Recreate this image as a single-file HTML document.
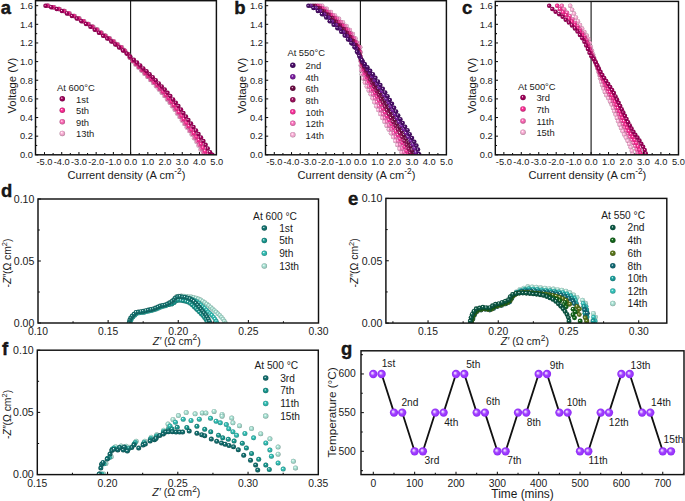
<!DOCTYPE html><html><head><meta charset="utf-8"><style>html,body{margin:0;padding:0;background:#fff;}svg{display:block;font-family:"Liberation Sans",sans-serif;}</style></head><body><svg width="685" height="501" viewBox="0 0 685 501" font-family="Liberation Sans, sans-serif" fill="#1a1a1a"><defs><clipPath id="c0"><rect x="35.5" y="0.7" width="180.9" height="153.9"/></clipPath><radialGradient id="g0" cx="0.5" cy="0.5" r="0.52" fx="0.38" fy="0.34"><stop offset="0" stop-color="#ffffff"/><stop offset="0.16" stop-color="#ffe1f0"/><stop offset="0.36" stop-color="#ffb3da"/><stop offset="0.75" stop-color="#e09ec0"/><stop offset="1" stop-color="#a6748e"/></radialGradient><radialGradient id="g1" cx="0.5" cy="0.5" r="0.52" fx="0.38" fy="0.34"><stop offset="0" stop-color="#ffffff"/><stop offset="0.16" stop-color="#ffc4e3"/><stop offset="0.36" stop-color="#ff6cb8"/><stop offset="0.75" stop-color="#e05fa2"/><stop offset="1" stop-color="#a64678"/></radialGradient><radialGradient id="g2" cx="0.5" cy="0.5" r="0.52" fx="0.38" fy="0.34"><stop offset="0" stop-color="#ffffff"/><stop offset="0.16" stop-color="#ffabd5"/><stop offset="0.36" stop-color="#ff2d96"/><stop offset="0.75" stop-color="#e02884"/><stop offset="1" stop-color="#a61d62"/></radialGradient><radialGradient id="g3" cx="0.5" cy="0.5" r="0.52" fx="0.38" fy="0.34"><stop offset="0" stop-color="#ffffff"/><stop offset="0.16" stop-color="#da99be"/><stop offset="0.36" stop-color="#a3005c"/><stop offset="0.75" stop-color="#8f0051"/><stop offset="1" stop-color="#6a003c"/></radialGradient><clipPath id="c1"><rect x="265.5" y="0.7" width="180.89999999999998" height="153.9"/></clipPath><radialGradient id="g4" cx="0.5" cy="0.5" r="0.52" fx="0.38" fy="0.34"><stop offset="0" stop-color="#ffffff"/><stop offset="0.16" stop-color="#ffe1f1"/><stop offset="0.36" stop-color="#ffb3dc"/><stop offset="0.75" stop-color="#e09ec2"/><stop offset="1" stop-color="#a6748f"/></radialGradient><radialGradient id="g5" cx="0.5" cy="0.5" r="0.52" fx="0.38" fy="0.34"><stop offset="0" stop-color="#ffffff"/><stop offset="0.16" stop-color="#ffc9e7"/><stop offset="0.36" stop-color="#ff78c2"/><stop offset="0.75" stop-color="#e06aab"/><stop offset="1" stop-color="#a64e7e"/></radialGradient><radialGradient id="g6" cx="0.5" cy="0.5" r="0.52" fx="0.38" fy="0.34"><stop offset="0" stop-color="#ffffff"/><stop offset="0.16" stop-color="#ffaed9"/><stop offset="0.36" stop-color="#ff35a0"/><stop offset="0.75" stop-color="#e02f8d"/><stop offset="1" stop-color="#a62268"/></radialGradient><radialGradient id="g7" cx="0.5" cy="0.5" r="0.52" fx="0.38" fy="0.34"><stop offset="0" stop-color="#ffffff"/><stop offset="0.16" stop-color="#d99fbf"/><stop offset="0.36" stop-color="#a0105e"/><stop offset="0.75" stop-color="#8d0e53"/><stop offset="1" stop-color="#680a3d"/></radialGradient><radialGradient id="g8" cx="0.5" cy="0.5" r="0.52" fx="0.38" fy="0.34"><stop offset="0" stop-color="#ffffff"/><stop offset="0.16" stop-color="#c59db5"/><stop offset="0.36" stop-color="#6e0b45"/><stop offset="0.75" stop-color="#610a3d"/><stop offset="1" stop-color="#48072d"/></radialGradient><radialGradient id="g9" cx="0.5" cy="0.5" r="0.52" fx="0.38" fy="0.34"><stop offset="0" stop-color="#ffffff"/><stop offset="0.16" stop-color="#cba5da"/><stop offset="0.36" stop-color="#7d1fa3"/><stop offset="0.75" stop-color="#6e1b8f"/><stop offset="1" stop-color="#51146a"/></radialGradient><radialGradient id="g10" cx="0.5" cy="0.5" r="0.52" fx="0.38" fy="0.34"><stop offset="0" stop-color="#ffffff"/><stop offset="0.16" stop-color="#b79ec4"/><stop offset="0.36" stop-color="#4b0d6b"/><stop offset="0.75" stop-color="#420b5e"/><stop offset="1" stop-color="#310846"/></radialGradient><clipPath id="c2"><rect x="495.3" y="1.4" width="183.2" height="153.2"/></clipPath><clipPath id="c3"><rect x="38.0" y="199.0" width="280.5" height="123.80000000000001"/></clipPath><radialGradient id="g11" cx="0.5" cy="0.5" r="0.52" fx="0.38" fy="0.34"><stop offset="0" stop-color="#ffffff"/><stop offset="0.16" stop-color="#def5ef"/><stop offset="0.36" stop-color="#ade6d8"/><stop offset="0.75" stop-color="#98cabe"/><stop offset="1" stop-color="#70968c"/></radialGradient><radialGradient id="g12" cx="0.5" cy="0.5" r="0.52" fx="0.38" fy="0.34"><stop offset="0" stop-color="#ffffff"/><stop offset="0.16" stop-color="#aee7e3"/><stop offset="0.36" stop-color="#35c2b8"/><stop offset="0.75" stop-color="#2faba2"/><stop offset="1" stop-color="#227e78"/></radialGradient><radialGradient id="g13" cx="0.5" cy="0.5" r="0.52" fx="0.38" fy="0.34"><stop offset="0" stop-color="#ffffff"/><stop offset="0.16" stop-color="#a3d7d3"/><stop offset="0.36" stop-color="#1a9a92"/><stop offset="0.75" stop-color="#178880"/><stop offset="1" stop-color="#11645f"/></radialGradient><radialGradient id="g14" cx="0.5" cy="0.5" r="0.52" fx="0.38" fy="0.34"><stop offset="0" stop-color="#ffffff"/><stop offset="0.16" stop-color="#a1c8c7"/><stop offset="0.36" stop-color="#157673"/><stop offset="0.75" stop-color="#126865"/><stop offset="1" stop-color="#0e4d4b"/></radialGradient><clipPath id="c4"><rect x="385.9" y="198.4" width="280.9" height="124.49999999999997"/></clipPath><radialGradient id="g15" cx="0.5" cy="0.5" r="0.52" fx="0.38" fy="0.34"><stop offset="0" stop-color="#ffffff"/><stop offset="0.16" stop-color="#dff6f0"/><stop offset="0.36" stop-color="#b0e8da"/><stop offset="0.75" stop-color="#9bccc0"/><stop offset="1" stop-color="#72978e"/></radialGradient><radialGradient id="g16" cx="0.5" cy="0.5" r="0.52" fx="0.38" fy="0.34"><stop offset="0" stop-color="#ffffff"/><stop offset="0.16" stop-color="#afe9e6"/><stop offset="0.36" stop-color="#38c8c0"/><stop offset="0.75" stop-color="#31b0a9"/><stop offset="1" stop-color="#24827d"/></radialGradient><radialGradient id="g17" cx="0.5" cy="0.5" r="0.52" fx="0.38" fy="0.34"><stop offset="0" stop-color="#ffffff"/><stop offset="0.16" stop-color="#a4dad9"/><stop offset="0.36" stop-color="#1ba3a0"/><stop offset="0.75" stop-color="#188f8d"/><stop offset="1" stop-color="#126a68"/></radialGradient><radialGradient id="g18" cx="0.5" cy="0.5" r="0.52" fx="0.38" fy="0.34"><stop offset="0" stop-color="#ffffff"/><stop offset="0.16" stop-color="#a1c5c9"/><stop offset="0.36" stop-color="#136d78"/><stop offset="0.75" stop-color="#11606a"/><stop offset="1" stop-color="#0c474e"/></radialGradient><radialGradient id="g19" cx="0.5" cy="0.5" r="0.52" fx="0.38" fy="0.34"><stop offset="0" stop-color="#ffffff"/><stop offset="0.16" stop-color="#becaa4"/><stop offset="0.36" stop-color="#5d7a1c"/><stop offset="0.75" stop-color="#526b19"/><stop offset="1" stop-color="#3c4f12"/></radialGradient><radialGradient id="g20" cx="0.5" cy="0.5" r="0.52" fx="0.38" fy="0.34"><stop offset="0" stop-color="#ffffff"/><stop offset="0.16" stop-color="#a1c3a4"/><stop offset="0.36" stop-color="#14691c"/><stop offset="0.75" stop-color="#125c19"/><stop offset="1" stop-color="#0d4412"/></radialGradient><radialGradient id="g21" cx="0.5" cy="0.5" r="0.52" fx="0.38" fy="0.34"><stop offset="0" stop-color="#ffffff"/><stop offset="0.16" stop-color="#9ebeb6"/><stop offset="0.36" stop-color="#0d5c48"/><stop offset="0.75" stop-color="#0b513f"/><stop offset="1" stop-color="#083c2f"/></radialGradient><clipPath id="c5"><rect x="37.3" y="350.2" width="281.0" height="124.19999999999999"/></clipPath><radialGradient id="g22" cx="0.5" cy="0.5" r="0.52" fx="0.38" fy="0.34"><stop offset="0" stop-color="#ffffff"/><stop offset="0.16" stop-color="#a1c6c6"/><stop offset="0.36" stop-color="#137070"/><stop offset="0.75" stop-color="#116363"/><stop offset="1" stop-color="#0c4949"/></radialGradient><radialGradient id="gpur" cx="0.5" cy="0.5" r="0.5" fx="0.36" fy="0.36"><stop offset="0" stop-color="#f4e6ff"/><stop offset="0.18" stop-color="#e2c2ff"/><stop offset="0.5" stop-color="#a244ff"/><stop offset="0.85" stop-color="#9630fb"/><stop offset="1" stop-color="#8a2cec"/></radialGradient></defs><line x1="130.60" y1="0.70" x2="130.60" y2="154.80" stroke="#111111" stroke-width="1.1"/>
<line x1="44.50" y1="154.80" x2="44.50" y2="152.10" stroke="#111111" stroke-width="1.05"/>
<line x1="53.11" y1="154.80" x2="53.11" y2="153.10" stroke="#111111" stroke-width="1.05"/>
<line x1="61.72" y1="154.80" x2="61.72" y2="152.10" stroke="#111111" stroke-width="1.05"/>
<line x1="70.33" y1="154.80" x2="70.33" y2="153.10" stroke="#111111" stroke-width="1.05"/>
<line x1="78.94" y1="154.80" x2="78.94" y2="152.10" stroke="#111111" stroke-width="1.05"/>
<line x1="87.55" y1="154.80" x2="87.55" y2="153.10" stroke="#111111" stroke-width="1.05"/>
<line x1="96.16" y1="154.80" x2="96.16" y2="152.10" stroke="#111111" stroke-width="1.05"/>
<line x1="104.77" y1="154.80" x2="104.77" y2="153.10" stroke="#111111" stroke-width="1.05"/>
<line x1="113.38" y1="154.80" x2="113.38" y2="152.10" stroke="#111111" stroke-width="1.05"/>
<line x1="121.99" y1="154.80" x2="121.99" y2="153.10" stroke="#111111" stroke-width="1.05"/>
<line x1="130.60" y1="154.80" x2="130.60" y2="152.10" stroke="#111111" stroke-width="1.05"/>
<line x1="139.21" y1="154.80" x2="139.21" y2="153.10" stroke="#111111" stroke-width="1.05"/>
<line x1="147.82" y1="154.80" x2="147.82" y2="152.10" stroke="#111111" stroke-width="1.05"/>
<line x1="156.43" y1="154.80" x2="156.43" y2="153.10" stroke="#111111" stroke-width="1.05"/>
<line x1="165.04" y1="154.80" x2="165.04" y2="152.10" stroke="#111111" stroke-width="1.05"/>
<line x1="173.65" y1="154.80" x2="173.65" y2="153.10" stroke="#111111" stroke-width="1.05"/>
<line x1="182.26" y1="154.80" x2="182.26" y2="152.10" stroke="#111111" stroke-width="1.05"/>
<line x1="190.87" y1="154.80" x2="190.87" y2="153.10" stroke="#111111" stroke-width="1.05"/>
<line x1="199.48" y1="154.80" x2="199.48" y2="152.10" stroke="#111111" stroke-width="1.05"/>
<line x1="208.09" y1="154.80" x2="208.09" y2="153.10" stroke="#111111" stroke-width="1.05"/>
<text x="44.50" y="164.80" font-size="9.3" text-anchor="middle" font-weight="normal" >-5.0</text>
<text x="61.72" y="164.80" font-size="9.3" text-anchor="middle" font-weight="normal" >-4.0</text>
<text x="78.94" y="164.80" font-size="9.3" text-anchor="middle" font-weight="normal" >-3.0</text>
<text x="96.16" y="164.80" font-size="9.3" text-anchor="middle" font-weight="normal" >-2.0</text>
<text x="113.38" y="164.80" font-size="9.3" text-anchor="middle" font-weight="normal" >-1.0</text>
<text x="130.60" y="164.80" font-size="9.3" text-anchor="middle" font-weight="normal" >0.0</text>
<text x="147.82" y="164.80" font-size="9.3" text-anchor="middle" font-weight="normal" >1.0</text>
<text x="165.04" y="164.80" font-size="9.3" text-anchor="middle" font-weight="normal" >2.0</text>
<text x="182.26" y="164.80" font-size="9.3" text-anchor="middle" font-weight="normal" >3.0</text>
<text x="199.48" y="164.80" font-size="9.3" text-anchor="middle" font-weight="normal" >4.0</text>
<text x="216.70" y="164.80" font-size="9.3" text-anchor="middle" font-weight="normal" >5.0</text>
<line x1="35.50" y1="154.80" x2="38.20" y2="154.80" stroke="#111111" stroke-width="1.05"/>
<text x="32.90" y="158.10" font-size="9.3" text-anchor="end" font-weight="normal" >0.0</text>
<line x1="35.50" y1="145.48" x2="37.20" y2="145.48" stroke="#111111" stroke-width="1.05"/>
<line x1="35.50" y1="136.16" x2="38.20" y2="136.16" stroke="#111111" stroke-width="1.05"/>
<text x="32.90" y="139.46" font-size="9.3" text-anchor="end" font-weight="normal" >0.2</text>
<line x1="35.50" y1="126.84" x2="37.20" y2="126.84" stroke="#111111" stroke-width="1.05"/>
<line x1="35.50" y1="117.52" x2="38.20" y2="117.52" stroke="#111111" stroke-width="1.05"/>
<text x="32.90" y="120.82" font-size="9.3" text-anchor="end" font-weight="normal" >0.4</text>
<line x1="35.50" y1="108.20" x2="37.20" y2="108.20" stroke="#111111" stroke-width="1.05"/>
<line x1="35.50" y1="98.88" x2="38.20" y2="98.88" stroke="#111111" stroke-width="1.05"/>
<text x="32.90" y="102.18" font-size="9.3" text-anchor="end" font-weight="normal" >0.6</text>
<line x1="35.50" y1="89.56" x2="37.20" y2="89.56" stroke="#111111" stroke-width="1.05"/>
<line x1="35.50" y1="80.24" x2="38.20" y2="80.24" stroke="#111111" stroke-width="1.05"/>
<text x="32.90" y="83.54" font-size="9.3" text-anchor="end" font-weight="normal" >0.8</text>
<line x1="35.50" y1="70.92" x2="37.20" y2="70.92" stroke="#111111" stroke-width="1.05"/>
<line x1="35.50" y1="61.60" x2="38.20" y2="61.60" stroke="#111111" stroke-width="1.05"/>
<text x="32.90" y="64.90" font-size="9.3" text-anchor="end" font-weight="normal" >1.0</text>
<line x1="35.50" y1="52.28" x2="37.20" y2="52.28" stroke="#111111" stroke-width="1.05"/>
<line x1="35.50" y1="42.96" x2="38.20" y2="42.96" stroke="#111111" stroke-width="1.05"/>
<text x="32.90" y="46.26" font-size="9.3" text-anchor="end" font-weight="normal" >1.2</text>
<line x1="35.50" y1="33.64" x2="37.20" y2="33.64" stroke="#111111" stroke-width="1.05"/>
<line x1="35.50" y1="24.32" x2="38.20" y2="24.32" stroke="#111111" stroke-width="1.05"/>
<text x="32.90" y="27.62" font-size="9.3" text-anchor="end" font-weight="normal" >1.4</text>
<line x1="35.50" y1="15.00" x2="37.20" y2="15.00" stroke="#111111" stroke-width="1.05"/>
<line x1="35.50" y1="5.68" x2="38.20" y2="5.68" stroke="#111111" stroke-width="1.05"/>
<text x="32.90" y="8.98" font-size="9.3" text-anchor="end" font-weight="normal" >1.6</text>
<text x="0.80" y="13.60" font-size="18.5" text-anchor="start" font-weight="bold" stroke="#000" stroke-width="0.35">a</text>
<text x="126.45" y="179.00" font-size="11.1" text-anchor="middle" font-weight="normal" >Current density (A cm<tspan dy="-5.4" font-size="8.4">-2</tspan><tspan dy="5.4">)</tspan></text>
<text x="0.00" y="0.00" font-size="11.3" text-anchor="middle" font-weight="normal" transform="translate(15.9,85.6) rotate(-90)">Voltage (V)</text>
<g clip-path="url(#c0)">
<circle cx="48.5" cy="5.7" r="2.25" fill="url(#g0)"/>
<circle cx="54.1" cy="7.3" r="2.25" fill="url(#g0)"/>
<circle cx="59.6" cy="9.1" r="2.25" fill="url(#g0)"/>
<circle cx="64.8" cy="11.1" r="2.25" fill="url(#g0)"/>
<circle cx="69.8" cy="13.4" r="2.25" fill="url(#g0)"/>
<circle cx="74.8" cy="15.9" r="2.25" fill="url(#g0)"/>
<circle cx="79.5" cy="18.6" r="2.25" fill="url(#g0)"/>
<circle cx="84.2" cy="21.2" r="2.25" fill="url(#g0)"/>
<circle cx="88.8" cy="24.0" r="2.25" fill="url(#g0)"/>
<circle cx="93.3" cy="26.8" r="2.25" fill="url(#g0)"/>
<circle cx="97.5" cy="29.6" r="2.25" fill="url(#g0)"/>
<circle cx="101.7" cy="32.7" r="2.25" fill="url(#g0)"/>
<circle cx="105.9" cy="35.7" r="2.25" fill="url(#g0)"/>
<circle cx="110.0" cy="38.5" r="2.25" fill="url(#g0)"/>
<circle cx="114.1" cy="41.4" r="2.25" fill="url(#g0)"/>
<circle cx="118.0" cy="44.4" r="2.25" fill="url(#g0)"/>
<circle cx="121.9" cy="47.3" r="2.25" fill="url(#g0)"/>
<circle cx="125.2" cy="50.8" r="2.25" fill="url(#g0)"/>
<circle cx="128.3" cy="54.3" r="2.25" fill="url(#g0)"/>
<circle cx="129.6" cy="57.5" r="2.25" fill="url(#g0)"/>
<circle cx="132.4" cy="61.2" r="2.25" fill="url(#g0)"/>
<circle cx="135.4" cy="64.4" r="2.25" fill="url(#g0)"/>
<circle cx="138.4" cy="67.4" r="2.25" fill="url(#g0)"/>
<circle cx="141.3" cy="70.5" r="2.25" fill="url(#g0)"/>
<circle cx="144.4" cy="73.7" r="2.25" fill="url(#g0)"/>
<circle cx="147.3" cy="76.7" r="2.25" fill="url(#g0)"/>
<circle cx="150.3" cy="79.9" r="2.25" fill="url(#g0)"/>
<circle cx="153.2" cy="83.0" r="2.25" fill="url(#g0)"/>
<circle cx="156.1" cy="86.2" r="2.25" fill="url(#g0)"/>
<circle cx="158.9" cy="89.4" r="2.25" fill="url(#g0)"/>
<circle cx="161.7" cy="92.7" r="2.25" fill="url(#g0)"/>
<circle cx="164.4" cy="96.0" r="2.25" fill="url(#g0)"/>
<circle cx="167.1" cy="99.4" r="2.25" fill="url(#g0)"/>
<circle cx="169.7" cy="102.8" r="2.25" fill="url(#g0)"/>
<circle cx="172.2" cy="106.3" r="2.25" fill="url(#g0)"/>
<circle cx="174.7" cy="109.8" r="2.25" fill="url(#g0)"/>
<circle cx="177.1" cy="113.4" r="2.25" fill="url(#g0)"/>
<circle cx="179.5" cy="117.0" r="2.25" fill="url(#g0)"/>
<circle cx="181.9" cy="120.5" r="2.25" fill="url(#g0)"/>
<circle cx="184.4" cy="124.0" r="2.25" fill="url(#g0)"/>
<circle cx="186.8" cy="127.6" r="2.25" fill="url(#g0)"/>
<circle cx="189.3" cy="131.1" r="2.25" fill="url(#g0)"/>
<circle cx="191.7" cy="134.6" r="2.25" fill="url(#g0)"/>
<circle cx="194.2" cy="138.2" r="2.25" fill="url(#g0)"/>
<circle cx="196.5" cy="141.8" r="2.25" fill="url(#g0)"/>
<circle cx="198.5" cy="145.6" r="2.25" fill="url(#g0)"/>
<circle cx="200.6" cy="149.4" r="2.25" fill="url(#g0)"/>
<circle cx="203.0" cy="153.0" r="2.25" fill="url(#g0)"/>
<circle cx="204.6" cy="154.8" r="2.25" fill="url(#g0)"/>
<circle cx="47.9" cy="5.7" r="2.25" fill="url(#g1)"/>
<circle cx="53.6" cy="7.3" r="2.25" fill="url(#g1)"/>
<circle cx="59.0" cy="9.1" r="2.25" fill="url(#g1)"/>
<circle cx="64.2" cy="11.1" r="2.25" fill="url(#g1)"/>
<circle cx="69.2" cy="13.4" r="2.25" fill="url(#g1)"/>
<circle cx="74.2" cy="15.9" r="2.25" fill="url(#g1)"/>
<circle cx="79.0" cy="18.6" r="2.25" fill="url(#g1)"/>
<circle cx="83.6" cy="21.2" r="2.25" fill="url(#g1)"/>
<circle cx="88.2" cy="24.0" r="2.25" fill="url(#g1)"/>
<circle cx="92.7" cy="26.8" r="2.25" fill="url(#g1)"/>
<circle cx="97.0" cy="29.7" r="2.25" fill="url(#g1)"/>
<circle cx="101.1" cy="32.7" r="2.25" fill="url(#g1)"/>
<circle cx="105.3" cy="35.7" r="2.25" fill="url(#g1)"/>
<circle cx="109.4" cy="38.5" r="2.25" fill="url(#g1)"/>
<circle cx="113.5" cy="41.4" r="2.25" fill="url(#g1)"/>
<circle cx="117.4" cy="44.4" r="2.25" fill="url(#g1)"/>
<circle cx="121.3" cy="47.3" r="2.25" fill="url(#g1)"/>
<circle cx="124.7" cy="50.7" r="2.25" fill="url(#g1)"/>
<circle cx="128.0" cy="54.2" r="2.25" fill="url(#g1)"/>
<circle cx="129.9" cy="57.4" r="2.25" fill="url(#g1)"/>
<circle cx="132.9" cy="61.0" r="2.25" fill="url(#g1)"/>
<circle cx="135.9" cy="64.1" r="2.25" fill="url(#g1)"/>
<circle cx="138.9" cy="67.1" r="2.25" fill="url(#g1)"/>
<circle cx="141.9" cy="70.2" r="2.25" fill="url(#g1)"/>
<circle cx="144.9" cy="73.3" r="2.25" fill="url(#g1)"/>
<circle cx="147.9" cy="76.4" r="2.25" fill="url(#g1)"/>
<circle cx="150.9" cy="79.5" r="2.25" fill="url(#g1)"/>
<circle cx="153.8" cy="82.6" r="2.25" fill="url(#g1)"/>
<circle cx="156.8" cy="85.8" r="2.25" fill="url(#g1)"/>
<circle cx="159.7" cy="89.0" r="2.25" fill="url(#g1)"/>
<circle cx="162.5" cy="92.2" r="2.25" fill="url(#g1)"/>
<circle cx="165.2" cy="95.5" r="2.25" fill="url(#g1)"/>
<circle cx="167.9" cy="98.9" r="2.25" fill="url(#g1)"/>
<circle cx="170.5" cy="102.2" r="2.25" fill="url(#g1)"/>
<circle cx="173.1" cy="105.7" r="2.25" fill="url(#g1)"/>
<circle cx="175.6" cy="109.2" r="2.25" fill="url(#g1)"/>
<circle cx="178.0" cy="112.8" r="2.25" fill="url(#g1)"/>
<circle cx="180.4" cy="116.4" r="2.25" fill="url(#g1)"/>
<circle cx="182.8" cy="119.9" r="2.25" fill="url(#g1)"/>
<circle cx="185.3" cy="123.4" r="2.25" fill="url(#g1)"/>
<circle cx="187.8" cy="126.9" r="2.25" fill="url(#g1)"/>
<circle cx="190.3" cy="130.4" r="2.25" fill="url(#g1)"/>
<circle cx="192.7" cy="134.0" r="2.25" fill="url(#g1)"/>
<circle cx="195.2" cy="137.5" r="2.25" fill="url(#g1)"/>
<circle cx="197.5" cy="141.1" r="2.25" fill="url(#g1)"/>
<circle cx="199.6" cy="144.8" r="2.25" fill="url(#g1)"/>
<circle cx="201.7" cy="148.6" r="2.25" fill="url(#g1)"/>
<circle cx="204.0" cy="152.3" r="2.25" fill="url(#g1)"/>
<circle cx="206.2" cy="154.8" r="2.25" fill="url(#g1)"/>
<circle cx="47.1" cy="5.7" r="2.25" fill="url(#g2)"/>
<circle cx="52.8" cy="7.3" r="2.25" fill="url(#g2)"/>
<circle cx="58.3" cy="9.1" r="2.25" fill="url(#g2)"/>
<circle cx="63.5" cy="11.1" r="2.25" fill="url(#g2)"/>
<circle cx="68.5" cy="13.4" r="2.25" fill="url(#g2)"/>
<circle cx="73.5" cy="15.9" r="2.25" fill="url(#g2)"/>
<circle cx="78.2" cy="18.6" r="2.25" fill="url(#g2)"/>
<circle cx="83.0" cy="21.3" r="2.25" fill="url(#g2)"/>
<circle cx="87.5" cy="24.0" r="2.25" fill="url(#g2)"/>
<circle cx="91.9" cy="26.8" r="2.25" fill="url(#g2)"/>
<circle cx="96.3" cy="29.7" r="2.25" fill="url(#g2)"/>
<circle cx="100.5" cy="32.7" r="2.25" fill="url(#g2)"/>
<circle cx="104.6" cy="35.7" r="2.25" fill="url(#g2)"/>
<circle cx="108.7" cy="38.6" r="2.25" fill="url(#g2)"/>
<circle cx="112.8" cy="41.5" r="2.25" fill="url(#g2)"/>
<circle cx="116.7" cy="44.4" r="2.25" fill="url(#g2)"/>
<circle cx="120.6" cy="47.4" r="2.25" fill="url(#g2)"/>
<circle cx="124.1" cy="50.6" r="2.25" fill="url(#g2)"/>
<circle cx="127.6" cy="54.0" r="2.25" fill="url(#g2)"/>
<circle cx="130.2" cy="57.2" r="2.25" fill="url(#g2)"/>
<circle cx="133.3" cy="60.7" r="2.25" fill="url(#g2)"/>
<circle cx="136.4" cy="63.8" r="2.25" fill="url(#g2)"/>
<circle cx="139.4" cy="66.7" r="2.25" fill="url(#g2)"/>
<circle cx="142.5" cy="69.8" r="2.25" fill="url(#g2)"/>
<circle cx="145.6" cy="72.8" r="2.25" fill="url(#g2)"/>
<circle cx="148.6" cy="75.8" r="2.25" fill="url(#g2)"/>
<circle cx="151.6" cy="78.9" r="2.25" fill="url(#g2)"/>
<circle cx="154.6" cy="82.0" r="2.25" fill="url(#g2)"/>
<circle cx="157.5" cy="85.1" r="2.25" fill="url(#g2)"/>
<circle cx="160.5" cy="88.3" r="2.25" fill="url(#g2)"/>
<circle cx="163.3" cy="91.5" r="2.25" fill="url(#g2)"/>
<circle cx="166.1" cy="94.8" r="2.25" fill="url(#g2)"/>
<circle cx="168.8" cy="98.1" r="2.25" fill="url(#g2)"/>
<circle cx="171.5" cy="101.5" r="2.25" fill="url(#g2)"/>
<circle cx="174.1" cy="104.9" r="2.25" fill="url(#g2)"/>
<circle cx="176.6" cy="108.4" r="2.25" fill="url(#g2)"/>
<circle cx="179.1" cy="111.9" r="2.25" fill="url(#g2)"/>
<circle cx="181.5" cy="115.5" r="2.25" fill="url(#g2)"/>
<circle cx="183.9" cy="119.0" r="2.25" fill="url(#g2)"/>
<circle cx="186.4" cy="122.5" r="2.25" fill="url(#g2)"/>
<circle cx="188.9" cy="126.0" r="2.25" fill="url(#g2)"/>
<circle cx="191.4" cy="129.5" r="2.25" fill="url(#g2)"/>
<circle cx="193.9" cy="133.0" r="2.25" fill="url(#g2)"/>
<circle cx="196.4" cy="136.6" r="2.25" fill="url(#g2)"/>
<circle cx="198.8" cy="140.1" r="2.25" fill="url(#g2)"/>
<circle cx="201.0" cy="143.8" r="2.25" fill="url(#g2)"/>
<circle cx="203.0" cy="147.6" r="2.25" fill="url(#g2)"/>
<circle cx="205.2" cy="151.3" r="2.25" fill="url(#g2)"/>
<circle cx="207.9" cy="154.6" r="2.25" fill="url(#g2)"/>
<circle cx="45.5" cy="5.7" r="2.25" fill="url(#g3)"/>
<circle cx="51.2" cy="7.3" r="2.25" fill="url(#g3)"/>
<circle cx="56.7" cy="9.1" r="2.25" fill="url(#g3)"/>
<circle cx="61.9" cy="11.1" r="2.25" fill="url(#g3)"/>
<circle cx="66.9" cy="13.4" r="2.25" fill="url(#g3)"/>
<circle cx="71.9" cy="15.9" r="2.25" fill="url(#g3)"/>
<circle cx="76.7" cy="18.6" r="2.25" fill="url(#g3)"/>
<circle cx="81.3" cy="21.3" r="2.25" fill="url(#g3)"/>
<circle cx="86.0" cy="24.0" r="2.25" fill="url(#g3)"/>
<circle cx="90.4" cy="26.8" r="2.25" fill="url(#g3)"/>
<circle cx="94.7" cy="29.7" r="2.25" fill="url(#g3)"/>
<circle cx="98.9" cy="32.7" r="2.25" fill="url(#g3)"/>
<circle cx="103.1" cy="35.8" r="2.25" fill="url(#g3)"/>
<circle cx="107.2" cy="38.6" r="2.25" fill="url(#g3)"/>
<circle cx="111.3" cy="41.5" r="2.25" fill="url(#g3)"/>
<circle cx="115.3" cy="44.5" r="2.25" fill="url(#g3)"/>
<circle cx="119.1" cy="47.5" r="2.25" fill="url(#g3)"/>
<circle cx="122.9" cy="50.5" r="2.25" fill="url(#g3)"/>
<circle cx="126.6" cy="53.6" r="2.25" fill="url(#g3)"/>
<circle cx="130.2" cy="56.6" r="2.25" fill="url(#g3)"/>
<circle cx="133.8" cy="59.7" r="2.25" fill="url(#g3)"/>
<circle cx="137.0" cy="62.6" r="2.25" fill="url(#g3)"/>
<circle cx="140.2" cy="65.4" r="2.25" fill="url(#g3)"/>
<circle cx="143.3" cy="68.4" r="2.25" fill="url(#g3)"/>
<circle cx="146.5" cy="71.3" r="2.25" fill="url(#g3)"/>
<circle cx="149.6" cy="74.3" r="2.25" fill="url(#g3)"/>
<circle cx="152.7" cy="77.3" r="2.25" fill="url(#g3)"/>
<circle cx="155.7" cy="80.3" r="2.25" fill="url(#g3)"/>
<circle cx="158.8" cy="83.4" r="2.25" fill="url(#g3)"/>
<circle cx="161.7" cy="86.5" r="2.25" fill="url(#g3)"/>
<circle cx="164.7" cy="89.6" r="2.25" fill="url(#g3)"/>
<circle cx="167.5" cy="92.8" r="2.25" fill="url(#g3)"/>
<circle cx="170.3" cy="96.0" r="2.25" fill="url(#g3)"/>
<circle cx="173.1" cy="99.4" r="2.25" fill="url(#g3)"/>
<circle cx="175.8" cy="102.7" r="2.25" fill="url(#g3)"/>
<circle cx="178.4" cy="106.1" r="2.25" fill="url(#g3)"/>
<circle cx="181.0" cy="109.6" r="2.25" fill="url(#g3)"/>
<circle cx="183.4" cy="113.1" r="2.25" fill="url(#g3)"/>
<circle cx="185.9" cy="116.6" r="2.25" fill="url(#g3)"/>
<circle cx="188.4" cy="120.1" r="2.25" fill="url(#g3)"/>
<circle cx="191.0" cy="123.6" r="2.25" fill="url(#g3)"/>
<circle cx="193.5" cy="127.1" r="2.25" fill="url(#g3)"/>
<circle cx="196.0" cy="130.5" r="2.25" fill="url(#g3)"/>
<circle cx="198.5" cy="134.0" r="2.25" fill="url(#g3)"/>
<circle cx="201.0" cy="137.5" r="2.25" fill="url(#g3)"/>
<circle cx="203.4" cy="141.1" r="2.25" fill="url(#g3)"/>
<circle cx="205.6" cy="144.8" r="2.25" fill="url(#g3)"/>
<circle cx="207.7" cy="148.5" r="2.25" fill="url(#g3)"/>
<circle cx="210.1" cy="152.2" r="2.25" fill="url(#g3)"/>
<circle cx="212.4" cy="154.8" r="2.25" fill="url(#g3)"/>
</g>
<text x="57.10" y="90.70" font-size="9.4" text-anchor="start" font-weight="normal" >At 600&#176;C</text>
<circle cx="62.3" cy="98.8" r="2.75" fill="url(#g3)"/>
<text x="76.00" y="102.60" font-size="9.4" text-anchor="start" font-weight="normal" >1st</text>
<circle cx="62.3" cy="110.3" r="2.75" fill="url(#g2)"/>
<text x="76.00" y="114.10" font-size="9.4" text-anchor="start" font-weight="normal" >5th</text>
<circle cx="62.3" cy="121.8" r="2.75" fill="url(#g1)"/>
<text x="76.00" y="125.60" font-size="9.4" text-anchor="start" font-weight="normal" >9th</text>
<circle cx="62.3" cy="133.4" r="2.75" fill="url(#g0)"/>
<text x="76.00" y="137.20" font-size="9.4" text-anchor="start" font-weight="normal" >13th</text>
<line x1="360.40" y1="0.70" x2="360.40" y2="154.80" stroke="#111111" stroke-width="1.1"/>
<line x1="274.30" y1="154.80" x2="274.30" y2="152.10" stroke="#111111" stroke-width="1.05"/>
<line x1="282.91" y1="154.80" x2="282.91" y2="153.10" stroke="#111111" stroke-width="1.05"/>
<line x1="291.52" y1="154.80" x2="291.52" y2="152.10" stroke="#111111" stroke-width="1.05"/>
<line x1="300.13" y1="154.80" x2="300.13" y2="153.10" stroke="#111111" stroke-width="1.05"/>
<line x1="308.74" y1="154.80" x2="308.74" y2="152.10" stroke="#111111" stroke-width="1.05"/>
<line x1="317.35" y1="154.80" x2="317.35" y2="153.10" stroke="#111111" stroke-width="1.05"/>
<line x1="325.96" y1="154.80" x2="325.96" y2="152.10" stroke="#111111" stroke-width="1.05"/>
<line x1="334.57" y1="154.80" x2="334.57" y2="153.10" stroke="#111111" stroke-width="1.05"/>
<line x1="343.18" y1="154.80" x2="343.18" y2="152.10" stroke="#111111" stroke-width="1.05"/>
<line x1="351.79" y1="154.80" x2="351.79" y2="153.10" stroke="#111111" stroke-width="1.05"/>
<line x1="360.40" y1="154.80" x2="360.40" y2="152.10" stroke="#111111" stroke-width="1.05"/>
<line x1="369.01" y1="154.80" x2="369.01" y2="153.10" stroke="#111111" stroke-width="1.05"/>
<line x1="377.62" y1="154.80" x2="377.62" y2="152.10" stroke="#111111" stroke-width="1.05"/>
<line x1="386.23" y1="154.80" x2="386.23" y2="153.10" stroke="#111111" stroke-width="1.05"/>
<line x1="394.84" y1="154.80" x2="394.84" y2="152.10" stroke="#111111" stroke-width="1.05"/>
<line x1="403.45" y1="154.80" x2="403.45" y2="153.10" stroke="#111111" stroke-width="1.05"/>
<line x1="412.06" y1="154.80" x2="412.06" y2="152.10" stroke="#111111" stroke-width="1.05"/>
<line x1="420.67" y1="154.80" x2="420.67" y2="153.10" stroke="#111111" stroke-width="1.05"/>
<line x1="429.28" y1="154.80" x2="429.28" y2="152.10" stroke="#111111" stroke-width="1.05"/>
<line x1="437.89" y1="154.80" x2="437.89" y2="153.10" stroke="#111111" stroke-width="1.05"/>
<text x="274.30" y="164.80" font-size="9.3" text-anchor="middle" font-weight="normal" >-5.0</text>
<text x="291.52" y="164.80" font-size="9.3" text-anchor="middle" font-weight="normal" >-4.0</text>
<text x="308.74" y="164.80" font-size="9.3" text-anchor="middle" font-weight="normal" >-3.0</text>
<text x="325.96" y="164.80" font-size="9.3" text-anchor="middle" font-weight="normal" >-2.0</text>
<text x="343.18" y="164.80" font-size="9.3" text-anchor="middle" font-weight="normal" >-1.0</text>
<text x="360.40" y="164.80" font-size="9.3" text-anchor="middle" font-weight="normal" >0.0</text>
<text x="377.62" y="164.80" font-size="9.3" text-anchor="middle" font-weight="normal" >1.0</text>
<text x="394.84" y="164.80" font-size="9.3" text-anchor="middle" font-weight="normal" >2.0</text>
<text x="412.06" y="164.80" font-size="9.3" text-anchor="middle" font-weight="normal" >3.0</text>
<text x="429.28" y="164.80" font-size="9.3" text-anchor="middle" font-weight="normal" >4.0</text>
<text x="446.50" y="164.80" font-size="9.3" text-anchor="middle" font-weight="normal" >5.0</text>
<line x1="265.50" y1="154.80" x2="268.20" y2="154.80" stroke="#111111" stroke-width="1.05"/>
<text x="262.90" y="158.10" font-size="9.3" text-anchor="end" font-weight="normal" >0.0</text>
<line x1="265.50" y1="145.48" x2="267.20" y2="145.48" stroke="#111111" stroke-width="1.05"/>
<line x1="265.50" y1="136.16" x2="268.20" y2="136.16" stroke="#111111" stroke-width="1.05"/>
<text x="262.90" y="139.46" font-size="9.3" text-anchor="end" font-weight="normal" >0.2</text>
<line x1="265.50" y1="126.84" x2="267.20" y2="126.84" stroke="#111111" stroke-width="1.05"/>
<line x1="265.50" y1="117.52" x2="268.20" y2="117.52" stroke="#111111" stroke-width="1.05"/>
<text x="262.90" y="120.82" font-size="9.3" text-anchor="end" font-weight="normal" >0.4</text>
<line x1="265.50" y1="108.20" x2="267.20" y2="108.20" stroke="#111111" stroke-width="1.05"/>
<line x1="265.50" y1="98.88" x2="268.20" y2="98.88" stroke="#111111" stroke-width="1.05"/>
<text x="262.90" y="102.18" font-size="9.3" text-anchor="end" font-weight="normal" >0.6</text>
<line x1="265.50" y1="89.56" x2="267.20" y2="89.56" stroke="#111111" stroke-width="1.05"/>
<line x1="265.50" y1="80.24" x2="268.20" y2="80.24" stroke="#111111" stroke-width="1.05"/>
<text x="262.90" y="83.54" font-size="9.3" text-anchor="end" font-weight="normal" >0.8</text>
<line x1="265.50" y1="70.92" x2="267.20" y2="70.92" stroke="#111111" stroke-width="1.05"/>
<line x1="265.50" y1="61.60" x2="268.20" y2="61.60" stroke="#111111" stroke-width="1.05"/>
<text x="262.90" y="64.90" font-size="9.3" text-anchor="end" font-weight="normal" >1.0</text>
<line x1="265.50" y1="52.28" x2="267.20" y2="52.28" stroke="#111111" stroke-width="1.05"/>
<line x1="265.50" y1="42.96" x2="268.20" y2="42.96" stroke="#111111" stroke-width="1.05"/>
<text x="262.90" y="46.26" font-size="9.3" text-anchor="end" font-weight="normal" >1.2</text>
<line x1="265.50" y1="33.64" x2="267.20" y2="33.64" stroke="#111111" stroke-width="1.05"/>
<line x1="265.50" y1="24.32" x2="268.20" y2="24.32" stroke="#111111" stroke-width="1.05"/>
<text x="262.90" y="27.62" font-size="9.3" text-anchor="end" font-weight="normal" >1.4</text>
<line x1="265.50" y1="15.00" x2="267.20" y2="15.00" stroke="#111111" stroke-width="1.05"/>
<line x1="265.50" y1="5.68" x2="268.20" y2="5.68" stroke="#111111" stroke-width="1.05"/>
<text x="262.90" y="8.98" font-size="9.3" text-anchor="end" font-weight="normal" >1.6</text>
<text x="234.20" y="13.90" font-size="18.5" text-anchor="start" font-weight="bold" stroke="#000" stroke-width="0.35">b</text>
<text x="356.45" y="179.00" font-size="11.1" text-anchor="middle" font-weight="normal" >Current density (A cm<tspan dy="-5.4" font-size="8.4">-2</tspan><tspan dy="5.4">)</tspan></text>
<text x="0.00" y="0.00" font-size="11.3" text-anchor="middle" font-weight="normal" transform="translate(245.9,85.6) rotate(-90)">Voltage (V)</text>
<g clip-path="url(#c1)">
<circle cx="322.2" cy="5.7" r="2.25" fill="url(#g4)"/>
<circle cx="326.6" cy="8.8" r="2.25" fill="url(#g4)"/>
<circle cx="330.9" cy="12.0" r="2.25" fill="url(#g4)"/>
<circle cx="335.0" cy="15.4" r="2.25" fill="url(#g4)"/>
<circle cx="339.0" cy="18.8" r="2.25" fill="url(#g4)"/>
<circle cx="342.9" cy="22.3" r="2.25" fill="url(#g4)"/>
<circle cx="346.5" cy="26.0" r="2.25" fill="url(#g4)"/>
<circle cx="349.9" cy="29.9" r="2.25" fill="url(#g4)"/>
<circle cx="352.9" cy="34.0" r="2.25" fill="url(#g4)"/>
<circle cx="355.5" cy="38.4" r="2.25" fill="url(#g4)"/>
<circle cx="357.8" cy="42.9" r="2.25" fill="url(#g4)"/>
<circle cx="360.2" cy="47.3" r="2.25" fill="url(#g4)"/>
<circle cx="360.5" cy="52.3" r="2.25" fill="url(#g4)"/>
<circle cx="360.5" cy="56.7" r="2.25" fill="url(#g4)"/>
<circle cx="360.6" cy="61.1" r="2.25" fill="url(#g4)"/>
<circle cx="360.8" cy="65.4" r="2.25" fill="url(#g4)"/>
<circle cx="361.1" cy="69.9" r="2.25" fill="url(#g4)"/>
<circle cx="361.9" cy="74.2" r="2.25" fill="url(#g4)"/>
<circle cx="363.2" cy="78.4" r="2.25" fill="url(#g4)"/>
<circle cx="364.9" cy="82.5" r="2.25" fill="url(#g4)"/>
<circle cx="366.8" cy="86.4" r="2.25" fill="url(#g4)"/>
<circle cx="368.7" cy="90.4" r="2.25" fill="url(#g4)"/>
<circle cx="370.7" cy="94.3" r="2.25" fill="url(#g4)"/>
<circle cx="372.6" cy="98.3" r="2.25" fill="url(#g4)"/>
<circle cx="374.4" cy="102.3" r="2.25" fill="url(#g4)"/>
<circle cx="376.3" cy="106.2" r="2.25" fill="url(#g4)"/>
<circle cx="378.3" cy="110.1" r="2.25" fill="url(#g4)"/>
<circle cx="380.3" cy="114.1" r="2.25" fill="url(#g4)"/>
<circle cx="382.4" cy="118.0" r="2.25" fill="url(#g4)"/>
<circle cx="384.5" cy="121.8" r="2.25" fill="url(#g4)"/>
<circle cx="386.6" cy="125.7" r="2.25" fill="url(#g4)"/>
<circle cx="388.8" cy="129.5" r="2.25" fill="url(#g4)"/>
<circle cx="391.0" cy="133.3" r="2.25" fill="url(#g4)"/>
<circle cx="393.1" cy="137.1" r="2.25" fill="url(#g4)"/>
<circle cx="395.3" cy="141.0" r="2.25" fill="url(#g4)"/>
<circle cx="397.4" cy="144.9" r="2.25" fill="url(#g4)"/>
<circle cx="399.5" cy="148.7" r="2.25" fill="url(#g4)"/>
<circle cx="401.6" cy="152.6" r="2.25" fill="url(#g4)"/>
<circle cx="402.8" cy="154.8" r="2.25" fill="url(#g4)"/>
<circle cx="319.9" cy="5.7" r="2.25" fill="url(#g5)"/>
<circle cx="324.4" cy="8.7" r="2.25" fill="url(#g5)"/>
<circle cx="328.7" cy="11.9" r="2.25" fill="url(#g5)"/>
<circle cx="332.9" cy="15.2" r="2.25" fill="url(#g5)"/>
<circle cx="336.9" cy="18.6" r="2.25" fill="url(#g5)"/>
<circle cx="340.7" cy="22.1" r="2.25" fill="url(#g5)"/>
<circle cx="344.4" cy="25.8" r="2.25" fill="url(#g5)"/>
<circle cx="347.9" cy="29.6" r="2.25" fill="url(#g5)"/>
<circle cx="351.0" cy="33.6" r="2.25" fill="url(#g5)"/>
<circle cx="353.8" cy="38.0" r="2.25" fill="url(#g5)"/>
<circle cx="356.3" cy="42.3" r="2.25" fill="url(#g5)"/>
<circle cx="358.9" cy="46.7" r="2.25" fill="url(#g5)"/>
<circle cx="359.9" cy="51.5" r="2.25" fill="url(#g5)"/>
<circle cx="360.4" cy="56.5" r="2.25" fill="url(#g5)"/>
<circle cx="361.0" cy="61.5" r="2.25" fill="url(#g5)"/>
<circle cx="361.7" cy="65.8" r="2.25" fill="url(#g5)"/>
<circle cx="362.5" cy="70.1" r="2.25" fill="url(#g5)"/>
<circle cx="363.8" cy="74.3" r="2.25" fill="url(#g5)"/>
<circle cx="365.4" cy="78.4" r="2.25" fill="url(#g5)"/>
<circle cx="367.2" cy="82.5" r="2.25" fill="url(#g5)"/>
<circle cx="369.1" cy="86.4" r="2.25" fill="url(#g5)"/>
<circle cx="371.2" cy="90.3" r="2.25" fill="url(#g5)"/>
<circle cx="373.2" cy="94.2" r="2.25" fill="url(#g5)"/>
<circle cx="375.2" cy="98.1" r="2.25" fill="url(#g5)"/>
<circle cx="377.1" cy="102.1" r="2.25" fill="url(#g5)"/>
<circle cx="379.1" cy="106.0" r="2.25" fill="url(#g5)"/>
<circle cx="381.0" cy="109.9" r="2.25" fill="url(#g5)"/>
<circle cx="383.1" cy="113.9" r="2.25" fill="url(#g5)"/>
<circle cx="385.2" cy="117.8" r="2.25" fill="url(#g5)"/>
<circle cx="387.2" cy="121.6" r="2.25" fill="url(#g5)"/>
<circle cx="389.4" cy="125.4" r="2.25" fill="url(#g5)"/>
<circle cx="391.7" cy="129.2" r="2.25" fill="url(#g5)"/>
<circle cx="393.9" cy="133.0" r="2.25" fill="url(#g5)"/>
<circle cx="396.1" cy="136.8" r="2.25" fill="url(#g5)"/>
<circle cx="398.2" cy="140.7" r="2.25" fill="url(#g5)"/>
<circle cx="400.3" cy="144.6" r="2.25" fill="url(#g5)"/>
<circle cx="402.4" cy="148.4" r="2.25" fill="url(#g5)"/>
<circle cx="404.3" cy="152.4" r="2.25" fill="url(#g5)"/>
<circle cx="405.5" cy="154.8" r="2.25" fill="url(#g5)"/>
<circle cx="317.6" cy="5.7" r="2.25" fill="url(#g6)"/>
<circle cx="322.3" cy="8.5" r="2.25" fill="url(#g6)"/>
<circle cx="326.5" cy="11.7" r="2.25" fill="url(#g6)"/>
<circle cx="330.7" cy="15.0" r="2.25" fill="url(#g6)"/>
<circle cx="334.7" cy="18.3" r="2.25" fill="url(#g6)"/>
<circle cx="338.5" cy="22.0" r="2.25" fill="url(#g6)"/>
<circle cx="342.3" cy="25.6" r="2.25" fill="url(#g6)"/>
<circle cx="345.8" cy="29.3" r="2.25" fill="url(#g6)"/>
<circle cx="349.2" cy="33.3" r="2.25" fill="url(#g6)"/>
<circle cx="352.0" cy="37.5" r="2.25" fill="url(#g6)"/>
<circle cx="354.8" cy="41.7" r="2.25" fill="url(#g6)"/>
<circle cx="357.5" cy="46.0" r="2.25" fill="url(#g6)"/>
<circle cx="359.1" cy="50.7" r="2.25" fill="url(#g6)"/>
<circle cx="360.0" cy="55.6" r="2.25" fill="url(#g6)"/>
<circle cx="361.1" cy="60.5" r="2.25" fill="url(#g6)"/>
<circle cx="362.3" cy="64.8" r="2.25" fill="url(#g6)"/>
<circle cx="363.6" cy="69.0" r="2.25" fill="url(#g6)"/>
<circle cx="365.1" cy="73.1" r="2.25" fill="url(#g6)"/>
<circle cx="366.9" cy="77.1" r="2.25" fill="url(#g6)"/>
<circle cx="368.8" cy="81.1" r="2.25" fill="url(#g6)"/>
<circle cx="370.8" cy="85.0" r="2.25" fill="url(#g6)"/>
<circle cx="372.9" cy="88.9" r="2.25" fill="url(#g6)"/>
<circle cx="375.0" cy="92.7" r="2.25" fill="url(#g6)"/>
<circle cx="377.1" cy="96.6" r="2.25" fill="url(#g6)"/>
<circle cx="379.1" cy="100.5" r="2.25" fill="url(#g6)"/>
<circle cx="381.1" cy="104.4" r="2.25" fill="url(#g6)"/>
<circle cx="383.1" cy="108.4" r="2.25" fill="url(#g6)"/>
<circle cx="385.1" cy="112.2" r="2.25" fill="url(#g6)"/>
<circle cx="387.2" cy="116.2" r="2.25" fill="url(#g6)"/>
<circle cx="389.3" cy="120.0" r="2.25" fill="url(#g6)"/>
<circle cx="391.5" cy="123.8" r="2.25" fill="url(#g6)"/>
<circle cx="393.7" cy="127.6" r="2.25" fill="url(#g6)"/>
<circle cx="395.9" cy="131.4" r="2.25" fill="url(#g6)"/>
<circle cx="398.2" cy="135.2" r="2.25" fill="url(#g6)"/>
<circle cx="400.4" cy="139.0" r="2.25" fill="url(#g6)"/>
<circle cx="402.5" cy="142.8" r="2.25" fill="url(#g6)"/>
<circle cx="404.6" cy="146.7" r="2.25" fill="url(#g6)"/>
<circle cx="406.5" cy="150.7" r="2.25" fill="url(#g6)"/>
<circle cx="408.1" cy="154.8" r="2.25" fill="url(#g6)"/>
<circle cx="315.3" cy="5.7" r="2.25" fill="url(#g7)"/>
<circle cx="320.0" cy="8.3" r="2.25" fill="url(#g7)"/>
<circle cx="324.3" cy="11.5" r="2.25" fill="url(#g7)"/>
<circle cx="328.6" cy="14.8" r="2.25" fill="url(#g7)"/>
<circle cx="332.6" cy="18.1" r="2.25" fill="url(#g7)"/>
<circle cx="336.3" cy="21.8" r="2.25" fill="url(#g7)"/>
<circle cx="340.1" cy="25.4" r="2.25" fill="url(#g7)"/>
<circle cx="343.8" cy="29.1" r="2.25" fill="url(#g7)"/>
<circle cx="347.2" cy="32.9" r="2.25" fill="url(#g7)"/>
<circle cx="350.3" cy="37.0" r="2.25" fill="url(#g7)"/>
<circle cx="353.2" cy="41.1" r="2.25" fill="url(#g7)"/>
<circle cx="356.1" cy="45.3" r="2.25" fill="url(#g7)"/>
<circle cx="358.2" cy="49.8" r="2.25" fill="url(#g7)"/>
<circle cx="359.5" cy="54.7" r="2.25" fill="url(#g7)"/>
<circle cx="361.0" cy="59.5" r="2.25" fill="url(#g7)"/>
<circle cx="362.6" cy="63.6" r="2.25" fill="url(#g7)"/>
<circle cx="364.3" cy="67.6" r="2.25" fill="url(#g7)"/>
<circle cx="366.1" cy="71.6" r="2.25" fill="url(#g7)"/>
<circle cx="368.1" cy="75.6" r="2.25" fill="url(#g7)"/>
<circle cx="370.1" cy="79.5" r="2.25" fill="url(#g7)"/>
<circle cx="372.3" cy="83.3" r="2.25" fill="url(#g7)"/>
<circle cx="374.4" cy="87.1" r="2.25" fill="url(#g7)"/>
<circle cx="376.6" cy="91.0" r="2.25" fill="url(#g7)"/>
<circle cx="378.8" cy="94.8" r="2.25" fill="url(#g7)"/>
<circle cx="380.9" cy="98.7" r="2.25" fill="url(#g7)"/>
<circle cx="382.9" cy="102.5" r="2.25" fill="url(#g7)"/>
<circle cx="384.9" cy="106.5" r="2.25" fill="url(#g7)"/>
<circle cx="387.0" cy="110.3" r="2.25" fill="url(#g7)"/>
<circle cx="389.0" cy="114.3" r="2.25" fill="url(#g7)"/>
<circle cx="391.1" cy="118.1" r="2.25" fill="url(#g7)"/>
<circle cx="393.3" cy="121.9" r="2.25" fill="url(#g7)"/>
<circle cx="395.6" cy="125.7" r="2.25" fill="url(#g7)"/>
<circle cx="397.9" cy="129.5" r="2.25" fill="url(#g7)"/>
<circle cx="400.1" cy="133.3" r="2.25" fill="url(#g7)"/>
<circle cx="402.3" cy="137.0" r="2.25" fill="url(#g7)"/>
<circle cx="404.5" cy="140.9" r="2.25" fill="url(#g7)"/>
<circle cx="406.6" cy="144.7" r="2.25" fill="url(#g7)"/>
<circle cx="408.6" cy="148.7" r="2.25" fill="url(#g7)"/>
<circle cx="410.2" cy="152.8" r="2.25" fill="url(#g7)"/>
<circle cx="410.9" cy="154.8" r="2.25" fill="url(#g7)"/>
<circle cx="313.0" cy="5.7" r="2.25" fill="url(#g8)"/>
<circle cx="317.9" cy="8.2" r="2.25" fill="url(#g8)"/>
<circle cx="322.2" cy="11.3" r="2.25" fill="url(#g8)"/>
<circle cx="326.4" cy="14.6" r="2.25" fill="url(#g8)"/>
<circle cx="330.5" cy="17.9" r="2.25" fill="url(#g8)"/>
<circle cx="334.1" cy="21.6" r="2.25" fill="url(#g8)"/>
<circle cx="338.0" cy="25.2" r="2.25" fill="url(#g8)"/>
<circle cx="341.7" cy="28.8" r="2.25" fill="url(#g8)"/>
<circle cx="345.3" cy="32.5" r="2.25" fill="url(#g8)"/>
<circle cx="348.4" cy="36.6" r="2.25" fill="url(#g8)"/>
<circle cx="351.5" cy="40.6" r="2.25" fill="url(#g8)"/>
<circle cx="354.6" cy="44.7" r="2.25" fill="url(#g8)"/>
<circle cx="357.2" cy="49.0" r="2.25" fill="url(#g8)"/>
<circle cx="358.8" cy="53.7" r="2.25" fill="url(#g8)"/>
<circle cx="360.7" cy="58.4" r="2.25" fill="url(#g8)"/>
<circle cx="362.6" cy="62.3" r="2.25" fill="url(#g8)"/>
<circle cx="364.6" cy="66.2" r="2.25" fill="url(#g8)"/>
<circle cx="366.8" cy="70.1" r="2.25" fill="url(#g8)"/>
<circle cx="369.0" cy="73.9" r="2.25" fill="url(#g8)"/>
<circle cx="371.2" cy="77.7" r="2.25" fill="url(#g8)"/>
<circle cx="373.4" cy="81.5" r="2.25" fill="url(#g8)"/>
<circle cx="375.7" cy="85.2" r="2.25" fill="url(#g8)"/>
<circle cx="378.0" cy="89.0" r="2.25" fill="url(#g8)"/>
<circle cx="380.2" cy="92.8" r="2.25" fill="url(#g8)"/>
<circle cx="382.4" cy="96.6" r="2.25" fill="url(#g8)"/>
<circle cx="384.6" cy="100.5" r="2.25" fill="url(#g8)"/>
<circle cx="386.6" cy="104.3" r="2.25" fill="url(#g8)"/>
<circle cx="388.7" cy="108.2" r="2.25" fill="url(#g8)"/>
<circle cx="390.7" cy="112.1" r="2.25" fill="url(#g8)"/>
<circle cx="392.8" cy="116.0" r="2.25" fill="url(#g8)"/>
<circle cx="395.0" cy="119.8" r="2.25" fill="url(#g8)"/>
<circle cx="397.2" cy="123.6" r="2.25" fill="url(#g8)"/>
<circle cx="399.6" cy="127.3" r="2.25" fill="url(#g8)"/>
<circle cx="401.8" cy="131.1" r="2.25" fill="url(#g8)"/>
<circle cx="404.1" cy="134.9" r="2.25" fill="url(#g8)"/>
<circle cx="406.3" cy="138.6" r="2.25" fill="url(#g8)"/>
<circle cx="408.6" cy="142.5" r="2.25" fill="url(#g8)"/>
<circle cx="410.6" cy="146.3" r="2.25" fill="url(#g8)"/>
<circle cx="412.3" cy="150.4" r="2.25" fill="url(#g8)"/>
<circle cx="413.5" cy="154.7" r="2.25" fill="url(#g8)"/>
<circle cx="310.7" cy="5.7" r="2.25" fill="url(#g9)"/>
<circle cx="315.6" cy="8.1" r="2.25" fill="url(#g9)"/>
<circle cx="320.0" cy="11.1" r="2.25" fill="url(#g9)"/>
<circle cx="324.2" cy="14.4" r="2.25" fill="url(#g9)"/>
<circle cx="328.3" cy="17.6" r="2.25" fill="url(#g9)"/>
<circle cx="331.9" cy="21.4" r="2.25" fill="url(#g9)"/>
<circle cx="335.8" cy="25.0" r="2.25" fill="url(#g9)"/>
<circle cx="339.6" cy="28.6" r="2.25" fill="url(#g9)"/>
<circle cx="343.3" cy="32.2" r="2.25" fill="url(#g9)"/>
<circle cx="346.6" cy="36.1" r="2.25" fill="url(#g9)"/>
<circle cx="349.8" cy="40.0" r="2.25" fill="url(#g9)"/>
<circle cx="353.0" cy="44.0" r="2.25" fill="url(#g9)"/>
<circle cx="355.9" cy="48.1" r="2.25" fill="url(#g9)"/>
<circle cx="357.9" cy="52.7" r="2.25" fill="url(#g9)"/>
<circle cx="360.1" cy="57.2" r="2.25" fill="url(#g9)"/>
<circle cx="362.6" cy="61.6" r="2.25" fill="url(#g9)"/>
<circle cx="365.0" cy="65.3" r="2.25" fill="url(#g9)"/>
<circle cx="367.4" cy="68.9" r="2.25" fill="url(#g9)"/>
<circle cx="369.9" cy="72.6" r="2.25" fill="url(#g9)"/>
<circle cx="372.3" cy="76.2" r="2.25" fill="url(#g9)"/>
<circle cx="374.7" cy="80.0" r="2.25" fill="url(#g9)"/>
<circle cx="377.1" cy="83.6" r="2.25" fill="url(#g9)"/>
<circle cx="379.4" cy="87.4" r="2.25" fill="url(#g9)"/>
<circle cx="381.8" cy="91.1" r="2.25" fill="url(#g9)"/>
<circle cx="384.1" cy="94.9" r="2.25" fill="url(#g9)"/>
<circle cx="386.3" cy="98.7" r="2.25" fill="url(#g9)"/>
<circle cx="388.5" cy="102.5" r="2.25" fill="url(#g9)"/>
<circle cx="390.5" cy="106.4" r="2.25" fill="url(#g9)"/>
<circle cx="392.6" cy="110.2" r="2.25" fill="url(#g9)"/>
<circle cx="394.7" cy="114.1" r="2.25" fill="url(#g9)"/>
<circle cx="396.8" cy="118.0" r="2.25" fill="url(#g9)"/>
<circle cx="399.0" cy="121.8" r="2.25" fill="url(#g9)"/>
<circle cx="401.4" cy="125.5" r="2.25" fill="url(#g9)"/>
<circle cx="403.7" cy="129.2" r="2.25" fill="url(#g9)"/>
<circle cx="406.0" cy="133.0" r="2.25" fill="url(#g9)"/>
<circle cx="408.3" cy="136.8" r="2.25" fill="url(#g9)"/>
<circle cx="410.6" cy="140.5" r="2.25" fill="url(#g9)"/>
<circle cx="412.7" cy="144.4" r="2.25" fill="url(#g9)"/>
<circle cx="414.5" cy="148.3" r="2.25" fill="url(#g9)"/>
<circle cx="415.9" cy="152.5" r="2.25" fill="url(#g9)"/>
<circle cx="416.3" cy="154.8" r="2.25" fill="url(#g9)"/>
<circle cx="308.4" cy="5.7" r="2.25" fill="url(#g10)"/>
<circle cx="313.4" cy="7.9" r="2.25" fill="url(#g10)"/>
<circle cx="317.8" cy="10.9" r="2.25" fill="url(#g10)"/>
<circle cx="322.0" cy="14.2" r="2.25" fill="url(#g10)"/>
<circle cx="326.2" cy="17.4" r="2.25" fill="url(#g10)"/>
<circle cx="329.7" cy="21.2" r="2.25" fill="url(#g10)"/>
<circle cx="333.6" cy="24.8" r="2.25" fill="url(#g10)"/>
<circle cx="337.4" cy="28.3" r="2.25" fill="url(#g10)"/>
<circle cx="341.2" cy="31.8" r="2.25" fill="url(#g10)"/>
<circle cx="344.7" cy="35.6" r="2.25" fill="url(#g10)"/>
<circle cx="348.0" cy="39.5" r="2.25" fill="url(#g10)"/>
<circle cx="351.4" cy="43.3" r="2.25" fill="url(#g10)"/>
<circle cx="354.5" cy="47.3" r="2.25" fill="url(#g10)"/>
<circle cx="356.9" cy="51.7" r="2.25" fill="url(#g10)"/>
<circle cx="359.3" cy="56.1" r="2.25" fill="url(#g10)"/>
<circle cx="362.1" cy="60.3" r="2.25" fill="url(#g10)"/>
<circle cx="364.7" cy="63.9" r="2.25" fill="url(#g10)"/>
<circle cx="367.4" cy="67.3" r="2.25" fill="url(#g10)"/>
<circle cx="370.2" cy="70.8" r="2.25" fill="url(#g10)"/>
<circle cx="372.9" cy="74.2" r="2.25" fill="url(#g10)"/>
<circle cx="375.4" cy="77.8" r="2.25" fill="url(#g10)"/>
<circle cx="377.9" cy="81.5" r="2.25" fill="url(#g10)"/>
<circle cx="380.4" cy="85.1" r="2.25" fill="url(#g10)"/>
<circle cx="382.8" cy="88.8" r="2.25" fill="url(#g10)"/>
<circle cx="385.2" cy="92.5" r="2.25" fill="url(#g10)"/>
<circle cx="387.5" cy="96.2" r="2.25" fill="url(#g10)"/>
<circle cx="389.8" cy="100.0" r="2.25" fill="url(#g10)"/>
<circle cx="392.0" cy="103.8" r="2.25" fill="url(#g10)"/>
<circle cx="394.1" cy="107.7" r="2.25" fill="url(#g10)"/>
<circle cx="396.1" cy="111.5" r="2.25" fill="url(#g10)"/>
<circle cx="398.2" cy="115.4" r="2.25" fill="url(#g10)"/>
<circle cx="400.4" cy="119.2" r="2.25" fill="url(#g10)"/>
<circle cx="402.7" cy="123.0" r="2.25" fill="url(#g10)"/>
<circle cx="405.1" cy="126.7" r="2.25" fill="url(#g10)"/>
<circle cx="407.5" cy="130.3" r="2.25" fill="url(#g10)"/>
<circle cx="409.7" cy="134.2" r="2.25" fill="url(#g10)"/>
<circle cx="412.0" cy="137.9" r="2.25" fill="url(#g10)"/>
<circle cx="414.3" cy="141.7" r="2.25" fill="url(#g10)"/>
<circle cx="416.4" cy="145.6" r="2.25" fill="url(#g10)"/>
<circle cx="418.0" cy="149.6" r="2.25" fill="url(#g10)"/>
<circle cx="418.9" cy="153.9" r="2.25" fill="url(#g10)"/>
</g>
<text x="287.40" y="56.40" font-size="9.4" text-anchor="start" font-weight="normal" >At 550&#176;C</text>
<circle cx="292.8" cy="65.2" r="2.75" fill="url(#g10)"/>
<text x="305.60" y="69.00" font-size="9.4" text-anchor="start" font-weight="normal" >2nd</text>
<circle cx="292.8" cy="76.7" r="2.75" fill="url(#g9)"/>
<text x="305.60" y="80.50" font-size="9.4" text-anchor="start" font-weight="normal" >4th</text>
<circle cx="292.8" cy="88.2" r="2.75" fill="url(#g8)"/>
<text x="305.60" y="92.00" font-size="9.4" text-anchor="start" font-weight="normal" >6th</text>
<circle cx="292.8" cy="99.7" r="2.75" fill="url(#g7)"/>
<text x="305.60" y="103.50" font-size="9.4" text-anchor="start" font-weight="normal" >8th</text>
<circle cx="292.8" cy="111.8" r="2.75" fill="url(#g6)"/>
<text x="305.60" y="115.60" font-size="9.4" text-anchor="start" font-weight="normal" >10th</text>
<circle cx="292.8" cy="123.3" r="2.75" fill="url(#g5)"/>
<text x="305.60" y="127.10" font-size="9.4" text-anchor="start" font-weight="normal" >12th</text>
<circle cx="292.8" cy="134.8" r="2.75" fill="url(#g4)"/>
<text x="305.60" y="138.60" font-size="9.4" text-anchor="start" font-weight="normal" >14th</text>
<line x1="591.10" y1="1.40" x2="591.10" y2="154.80" stroke="#111111" stroke-width="1.1"/>
<line x1="503.85" y1="154.80" x2="503.85" y2="152.10" stroke="#111111" stroke-width="1.05"/>
<line x1="512.58" y1="154.80" x2="512.58" y2="153.10" stroke="#111111" stroke-width="1.05"/>
<line x1="521.30" y1="154.80" x2="521.30" y2="152.10" stroke="#111111" stroke-width="1.05"/>
<line x1="530.02" y1="154.80" x2="530.02" y2="153.10" stroke="#111111" stroke-width="1.05"/>
<line x1="538.75" y1="154.80" x2="538.75" y2="152.10" stroke="#111111" stroke-width="1.05"/>
<line x1="547.48" y1="154.80" x2="547.48" y2="153.10" stroke="#111111" stroke-width="1.05"/>
<line x1="556.20" y1="154.80" x2="556.20" y2="152.10" stroke="#111111" stroke-width="1.05"/>
<line x1="564.93" y1="154.80" x2="564.93" y2="153.10" stroke="#111111" stroke-width="1.05"/>
<line x1="573.65" y1="154.80" x2="573.65" y2="152.10" stroke="#111111" stroke-width="1.05"/>
<line x1="582.38" y1="154.80" x2="582.38" y2="153.10" stroke="#111111" stroke-width="1.05"/>
<line x1="591.10" y1="154.80" x2="591.10" y2="152.10" stroke="#111111" stroke-width="1.05"/>
<line x1="599.83" y1="154.80" x2="599.83" y2="153.10" stroke="#111111" stroke-width="1.05"/>
<line x1="608.55" y1="154.80" x2="608.55" y2="152.10" stroke="#111111" stroke-width="1.05"/>
<line x1="617.27" y1="154.80" x2="617.27" y2="153.10" stroke="#111111" stroke-width="1.05"/>
<line x1="626.00" y1="154.80" x2="626.00" y2="152.10" stroke="#111111" stroke-width="1.05"/>
<line x1="634.73" y1="154.80" x2="634.73" y2="153.10" stroke="#111111" stroke-width="1.05"/>
<line x1="643.45" y1="154.80" x2="643.45" y2="152.10" stroke="#111111" stroke-width="1.05"/>
<line x1="652.18" y1="154.80" x2="652.18" y2="153.10" stroke="#111111" stroke-width="1.05"/>
<line x1="660.90" y1="154.80" x2="660.90" y2="152.10" stroke="#111111" stroke-width="1.05"/>
<line x1="669.62" y1="154.80" x2="669.62" y2="153.10" stroke="#111111" stroke-width="1.05"/>
<text x="503.85" y="164.80" font-size="9.3" text-anchor="middle" font-weight="normal" >-5.0</text>
<text x="521.30" y="164.80" font-size="9.3" text-anchor="middle" font-weight="normal" >-4.0</text>
<text x="538.75" y="164.80" font-size="9.3" text-anchor="middle" font-weight="normal" >-3.0</text>
<text x="556.20" y="164.80" font-size="9.3" text-anchor="middle" font-weight="normal" >-2.0</text>
<text x="573.65" y="164.80" font-size="9.3" text-anchor="middle" font-weight="normal" >-1.0</text>
<text x="591.10" y="164.80" font-size="9.3" text-anchor="middle" font-weight="normal" >0.0</text>
<text x="608.55" y="164.80" font-size="9.3" text-anchor="middle" font-weight="normal" >1.0</text>
<text x="626.00" y="164.80" font-size="9.3" text-anchor="middle" font-weight="normal" >2.0</text>
<text x="643.45" y="164.80" font-size="9.3" text-anchor="middle" font-weight="normal" >3.0</text>
<text x="660.90" y="164.80" font-size="9.3" text-anchor="middle" font-weight="normal" >4.0</text>
<text x="678.35" y="164.80" font-size="9.3" text-anchor="middle" font-weight="normal" >5.0</text>
<line x1="495.30" y1="154.80" x2="498.00" y2="154.80" stroke="#111111" stroke-width="1.05"/>
<text x="492.70" y="158.10" font-size="9.3" text-anchor="end" font-weight="normal" >0.0</text>
<line x1="495.30" y1="145.48" x2="497.00" y2="145.48" stroke="#111111" stroke-width="1.05"/>
<line x1="495.30" y1="136.16" x2="498.00" y2="136.16" stroke="#111111" stroke-width="1.05"/>
<text x="492.70" y="139.46" font-size="9.3" text-anchor="end" font-weight="normal" >0.2</text>
<line x1="495.30" y1="126.84" x2="497.00" y2="126.84" stroke="#111111" stroke-width="1.05"/>
<line x1="495.30" y1="117.52" x2="498.00" y2="117.52" stroke="#111111" stroke-width="1.05"/>
<text x="492.70" y="120.82" font-size="9.3" text-anchor="end" font-weight="normal" >0.4</text>
<line x1="495.30" y1="108.20" x2="497.00" y2="108.20" stroke="#111111" stroke-width="1.05"/>
<line x1="495.30" y1="98.88" x2="498.00" y2="98.88" stroke="#111111" stroke-width="1.05"/>
<text x="492.70" y="102.18" font-size="9.3" text-anchor="end" font-weight="normal" >0.6</text>
<line x1="495.30" y1="89.56" x2="497.00" y2="89.56" stroke="#111111" stroke-width="1.05"/>
<line x1="495.30" y1="80.24" x2="498.00" y2="80.24" stroke="#111111" stroke-width="1.05"/>
<text x="492.70" y="83.54" font-size="9.3" text-anchor="end" font-weight="normal" >0.8</text>
<line x1="495.30" y1="70.92" x2="497.00" y2="70.92" stroke="#111111" stroke-width="1.05"/>
<line x1="495.30" y1="61.60" x2="498.00" y2="61.60" stroke="#111111" stroke-width="1.05"/>
<text x="492.70" y="64.90" font-size="9.3" text-anchor="end" font-weight="normal" >1.0</text>
<line x1="495.30" y1="52.28" x2="497.00" y2="52.28" stroke="#111111" stroke-width="1.05"/>
<line x1="495.30" y1="42.96" x2="498.00" y2="42.96" stroke="#111111" stroke-width="1.05"/>
<text x="492.70" y="46.26" font-size="9.3" text-anchor="end" font-weight="normal" >1.2</text>
<line x1="495.30" y1="33.64" x2="497.00" y2="33.64" stroke="#111111" stroke-width="1.05"/>
<line x1="495.30" y1="24.32" x2="498.00" y2="24.32" stroke="#111111" stroke-width="1.05"/>
<text x="492.70" y="27.62" font-size="9.3" text-anchor="end" font-weight="normal" >1.4</text>
<line x1="495.30" y1="15.00" x2="497.00" y2="15.00" stroke="#111111" stroke-width="1.05"/>
<line x1="495.30" y1="5.68" x2="498.00" y2="5.68" stroke="#111111" stroke-width="1.05"/>
<text x="492.70" y="8.98" font-size="9.3" text-anchor="end" font-weight="normal" >1.6</text>
<text x="462.00" y="14.10" font-size="18.5" text-anchor="start" font-weight="bold" stroke="#000" stroke-width="0.35">c</text>
<text x="587.40" y="179.00" font-size="11.1" text-anchor="middle" font-weight="normal" >Current density (A cm<tspan dy="-5.4" font-size="8.4">-2</tspan><tspan dy="5.4">)</tspan></text>
<text x="0.00" y="0.00" font-size="11.3" text-anchor="middle" font-weight="normal" transform="translate(475.7,85.6) rotate(-90)">Voltage (V)</text>
<g clip-path="url(#c2)">
<circle cx="570.2" cy="5.7" r="2.25" fill="url(#g0)"/>
<circle cx="572.1" cy="9.7" r="2.25" fill="url(#g0)"/>
<circle cx="574.0" cy="13.6" r="2.25" fill="url(#g0)"/>
<circle cx="575.9" cy="17.5" r="2.25" fill="url(#g0)"/>
<circle cx="577.9" cy="21.2" r="2.25" fill="url(#g0)"/>
<circle cx="580.0" cy="25.0" r="2.25" fill="url(#g0)"/>
<circle cx="582.1" cy="28.6" r="2.25" fill="url(#g0)"/>
<circle cx="584.4" cy="32.1" r="2.25" fill="url(#g0)"/>
<circle cx="586.7" cy="35.6" r="2.25" fill="url(#g0)"/>
<circle cx="588.6" cy="39.1" r="2.25" fill="url(#g0)"/>
<circle cx="589.9" cy="43.0" r="2.25" fill="url(#g0)"/>
<circle cx="590.9" cy="46.9" r="2.25" fill="url(#g0)"/>
<circle cx="592.0" cy="50.7" r="2.25" fill="url(#g0)"/>
<circle cx="593.0" cy="54.2" r="2.25" fill="url(#g0)"/>
<circle cx="594.0" cy="57.6" r="2.25" fill="url(#g0)"/>
<circle cx="595.1" cy="61.1" r="2.25" fill="url(#g0)"/>
<circle cx="596.1" cy="64.5" r="2.25" fill="url(#g0)"/>
<circle cx="597.2" cy="68.0" r="2.25" fill="url(#g0)"/>
<circle cx="598.2" cy="71.4" r="2.25" fill="url(#g0)"/>
<circle cx="599.2" cy="74.8" r="2.25" fill="url(#g0)"/>
<circle cx="600.2" cy="78.3" r="2.25" fill="url(#g0)"/>
<circle cx="601.2" cy="81.8" r="2.25" fill="url(#g0)"/>
<circle cx="602.3" cy="85.2" r="2.25" fill="url(#g0)"/>
<circle cx="603.5" cy="88.6" r="2.25" fill="url(#g0)"/>
<circle cx="604.8" cy="91.9" r="2.25" fill="url(#g0)"/>
<circle cx="606.4" cy="95.2" r="2.25" fill="url(#g0)"/>
<circle cx="608.4" cy="98.2" r="2.25" fill="url(#g0)"/>
<circle cx="610.1" cy="101.4" r="2.25" fill="url(#g0)"/>
<circle cx="611.6" cy="104.6" r="2.25" fill="url(#g0)"/>
<circle cx="613.0" cy="108.0" r="2.25" fill="url(#g0)"/>
<circle cx="614.3" cy="111.3" r="2.25" fill="url(#g0)"/>
<circle cx="615.6" cy="114.6" r="2.25" fill="url(#g0)"/>
<circle cx="616.9" cy="118.0" r="2.25" fill="url(#g0)"/>
<circle cx="618.2" cy="121.3" r="2.25" fill="url(#g0)"/>
<circle cx="619.6" cy="124.7" r="2.25" fill="url(#g0)"/>
<circle cx="621.0" cy="128.0" r="2.25" fill="url(#g0)"/>
<circle cx="622.6" cy="131.3" r="2.25" fill="url(#g0)"/>
<circle cx="624.2" cy="134.5" r="2.25" fill="url(#g0)"/>
<circle cx="625.9" cy="137.6" r="2.25" fill="url(#g0)"/>
<circle cx="627.6" cy="140.8" r="2.25" fill="url(#g0)"/>
<circle cx="629.2" cy="144.1" r="2.25" fill="url(#g0)"/>
<circle cx="630.6" cy="147.3" r="2.25" fill="url(#g0)"/>
<circle cx="631.8" cy="150.7" r="2.25" fill="url(#g0)"/>
<circle cx="632.5" cy="154.3" r="2.25" fill="url(#g0)"/>
<circle cx="561.8" cy="5.7" r="2.25" fill="url(#g1)"/>
<circle cx="564.3" cy="9.4" r="2.25" fill="url(#g1)"/>
<circle cx="567.0" cy="12.8" r="2.25" fill="url(#g1)"/>
<circle cx="569.8" cy="16.1" r="2.25" fill="url(#g1)"/>
<circle cx="572.4" cy="19.5" r="2.25" fill="url(#g1)"/>
<circle cx="575.0" cy="22.9" r="2.25" fill="url(#g1)"/>
<circle cx="577.5" cy="26.2" r="2.25" fill="url(#g1)"/>
<circle cx="580.0" cy="29.6" r="2.25" fill="url(#g1)"/>
<circle cx="582.4" cy="33.0" r="2.25" fill="url(#g1)"/>
<circle cx="584.7" cy="36.4" r="2.25" fill="url(#g1)"/>
<circle cx="586.7" cy="39.9" r="2.25" fill="url(#g1)"/>
<circle cx="588.2" cy="43.7" r="2.25" fill="url(#g1)"/>
<circle cx="589.5" cy="47.5" r="2.25" fill="url(#g1)"/>
<circle cx="590.9" cy="51.3" r="2.25" fill="url(#g1)"/>
<circle cx="592.2" cy="55.1" r="2.25" fill="url(#g1)"/>
<circle cx="593.8" cy="58.3" r="2.25" fill="url(#g1)"/>
<circle cx="595.2" cy="61.6" r="2.25" fill="url(#g1)"/>
<circle cx="596.6" cy="65.0" r="2.25" fill="url(#g1)"/>
<circle cx="597.9" cy="68.3" r="2.25" fill="url(#g1)"/>
<circle cx="599.2" cy="71.7" r="2.25" fill="url(#g1)"/>
<circle cx="600.5" cy="75.0" r="2.25" fill="url(#g1)"/>
<circle cx="601.9" cy="78.3" r="2.25" fill="url(#g1)"/>
<circle cx="603.4" cy="81.6" r="2.25" fill="url(#g1)"/>
<circle cx="604.8" cy="84.9" r="2.25" fill="url(#g1)"/>
<circle cx="606.4" cy="88.2" r="2.25" fill="url(#g1)"/>
<circle cx="607.9" cy="91.5" r="2.25" fill="url(#g1)"/>
<circle cx="609.5" cy="94.6" r="2.25" fill="url(#g1)"/>
<circle cx="611.3" cy="97.8" r="2.25" fill="url(#g1)"/>
<circle cx="613.0" cy="100.9" r="2.25" fill="url(#g1)"/>
<circle cx="614.5" cy="104.2" r="2.25" fill="url(#g1)"/>
<circle cx="616.0" cy="107.5" r="2.25" fill="url(#g1)"/>
<circle cx="617.5" cy="110.8" r="2.25" fill="url(#g1)"/>
<circle cx="618.9" cy="114.1" r="2.25" fill="url(#g1)"/>
<circle cx="620.3" cy="117.4" r="2.25" fill="url(#g1)"/>
<circle cx="621.7" cy="120.7" r="2.25" fill="url(#g1)"/>
<circle cx="623.2" cy="124.0" r="2.25" fill="url(#g1)"/>
<circle cx="624.7" cy="127.3" r="2.25" fill="url(#g1)"/>
<circle cx="626.3" cy="130.5" r="2.25" fill="url(#g1)"/>
<circle cx="628.1" cy="133.6" r="2.25" fill="url(#g1)"/>
<circle cx="629.9" cy="136.7" r="2.25" fill="url(#g1)"/>
<circle cx="631.8" cy="139.8" r="2.25" fill="url(#g1)"/>
<circle cx="633.5" cy="142.9" r="2.25" fill="url(#g1)"/>
<circle cx="635.2" cy="146.1" r="2.25" fill="url(#g1)"/>
<circle cx="636.6" cy="149.4" r="2.25" fill="url(#g1)"/>
<circle cx="637.6" cy="152.9" r="2.25" fill="url(#g1)"/>
<circle cx="638.0" cy="154.8" r="2.25" fill="url(#g1)"/>
<circle cx="557.2" cy="5.7" r="2.25" fill="url(#g2)"/>
<circle cx="559.9" cy="9.2" r="2.25" fill="url(#g2)"/>
<circle cx="562.9" cy="12.4" r="2.25" fill="url(#g2)"/>
<circle cx="566.0" cy="15.3" r="2.25" fill="url(#g2)"/>
<circle cx="569.0" cy="18.5" r="2.25" fill="url(#g2)"/>
<circle cx="571.8" cy="21.6" r="2.25" fill="url(#g2)"/>
<circle cx="574.6" cy="24.8" r="2.25" fill="url(#g2)"/>
<circle cx="577.3" cy="28.0" r="2.25" fill="url(#g2)"/>
<circle cx="579.8" cy="31.3" r="2.25" fill="url(#g2)"/>
<circle cx="582.2" cy="34.7" r="2.25" fill="url(#g2)"/>
<circle cx="584.4" cy="38.1" r="2.25" fill="url(#g2)"/>
<circle cx="586.3" cy="41.8" r="2.25" fill="url(#g2)"/>
<circle cx="587.9" cy="45.5" r="2.25" fill="url(#g2)"/>
<circle cx="589.4" cy="49.3" r="2.25" fill="url(#g2)"/>
<circle cx="590.7" cy="53.0" r="2.25" fill="url(#g2)"/>
<circle cx="592.4" cy="56.6" r="2.25" fill="url(#g2)"/>
<circle cx="594.3" cy="59.7" r="2.25" fill="url(#g2)"/>
<circle cx="595.8" cy="63.0" r="2.25" fill="url(#g2)"/>
<circle cx="597.3" cy="66.3" r="2.25" fill="url(#g2)"/>
<circle cx="598.7" cy="69.6" r="2.25" fill="url(#g2)"/>
<circle cx="600.2" cy="72.9" r="2.25" fill="url(#g2)"/>
<circle cx="601.7" cy="76.1" r="2.25" fill="url(#g2)"/>
<circle cx="603.4" cy="79.3" r="2.25" fill="url(#g2)"/>
<circle cx="605.0" cy="82.5" r="2.25" fill="url(#g2)"/>
<circle cx="606.7" cy="85.7" r="2.25" fill="url(#g2)"/>
<circle cx="608.4" cy="88.9" r="2.25" fill="url(#g2)"/>
<circle cx="610.1" cy="92.0" r="2.25" fill="url(#g2)"/>
<circle cx="611.7" cy="95.3" r="2.25" fill="url(#g2)"/>
<circle cx="613.4" cy="98.4" r="2.25" fill="url(#g2)"/>
<circle cx="615.1" cy="101.6" r="2.25" fill="url(#g2)"/>
<circle cx="616.6" cy="104.9" r="2.25" fill="url(#g2)"/>
<circle cx="618.1" cy="108.2" r="2.25" fill="url(#g2)"/>
<circle cx="619.6" cy="111.4" r="2.25" fill="url(#g2)"/>
<circle cx="621.1" cy="114.7" r="2.25" fill="url(#g2)"/>
<circle cx="622.5" cy="118.0" r="2.25" fill="url(#g2)"/>
<circle cx="624.1" cy="121.3" r="2.25" fill="url(#g2)"/>
<circle cx="625.6" cy="124.6" r="2.25" fill="url(#g2)"/>
<circle cx="627.2" cy="127.8" r="2.25" fill="url(#g2)"/>
<circle cx="628.9" cy="130.9" r="2.25" fill="url(#g2)"/>
<circle cx="630.8" cy="134.0" r="2.25" fill="url(#g2)"/>
<circle cx="632.7" cy="137.1" r="2.25" fill="url(#g2)"/>
<circle cx="634.6" cy="140.1" r="2.25" fill="url(#g2)"/>
<circle cx="636.4" cy="143.2" r="2.25" fill="url(#g2)"/>
<circle cx="638.1" cy="146.4" r="2.25" fill="url(#g2)"/>
<circle cx="639.5" cy="149.7" r="2.25" fill="url(#g2)"/>
<circle cx="640.6" cy="153.1" r="2.25" fill="url(#g2)"/>
<circle cx="641.0" cy="154.8" r="2.25" fill="url(#g2)"/>
<circle cx="549.2" cy="5.7" r="2.25" fill="url(#g3)"/>
<circle cx="552.3" cy="8.9" r="2.25" fill="url(#g3)"/>
<circle cx="555.6" cy="11.7" r="2.25" fill="url(#g3)"/>
<circle cx="559.2" cy="14.2" r="2.25" fill="url(#g3)"/>
<circle cx="562.6" cy="16.8" r="2.25" fill="url(#g3)"/>
<circle cx="565.7" cy="19.7" r="2.25" fill="url(#g3)"/>
<circle cx="568.9" cy="22.6" r="2.25" fill="url(#g3)"/>
<circle cx="572.0" cy="25.4" r="2.25" fill="url(#g3)"/>
<circle cx="574.9" cy="28.4" r="2.25" fill="url(#g3)"/>
<circle cx="577.5" cy="31.6" r="2.25" fill="url(#g3)"/>
<circle cx="579.9" cy="34.9" r="2.25" fill="url(#g3)"/>
<circle cx="582.3" cy="38.3" r="2.25" fill="url(#g3)"/>
<circle cx="584.4" cy="41.8" r="2.25" fill="url(#g3)"/>
<circle cx="586.2" cy="45.5" r="2.25" fill="url(#g3)"/>
<circle cx="587.9" cy="49.1" r="2.25" fill="url(#g3)"/>
<circle cx="589.5" cy="52.8" r="2.25" fill="url(#g3)"/>
<circle cx="591.4" cy="56.3" r="2.25" fill="url(#g3)"/>
<circle cx="593.7" cy="59.1" r="2.25" fill="url(#g3)"/>
<circle cx="595.6" cy="62.2" r="2.25" fill="url(#g3)"/>
<circle cx="597.2" cy="65.3" r="2.25" fill="url(#g3)"/>
<circle cx="598.8" cy="68.6" r="2.25" fill="url(#g3)"/>
<circle cx="600.5" cy="71.8" r="2.25" fill="url(#g3)"/>
<circle cx="602.3" cy="74.9" r="2.25" fill="url(#g3)"/>
<circle cx="604.2" cy="77.9" r="2.25" fill="url(#g3)"/>
<circle cx="606.2" cy="81.0" r="2.25" fill="url(#g3)"/>
<circle cx="608.2" cy="83.9" r="2.25" fill="url(#g3)"/>
<circle cx="610.2" cy="86.9" r="2.25" fill="url(#g3)"/>
<circle cx="612.1" cy="90.0" r="2.25" fill="url(#g3)"/>
<circle cx="613.9" cy="93.1" r="2.25" fill="url(#g3)"/>
<circle cx="615.5" cy="96.4" r="2.25" fill="url(#g3)"/>
<circle cx="617.0" cy="99.6" r="2.25" fill="url(#g3)"/>
<circle cx="618.6" cy="102.8" r="2.25" fill="url(#g3)"/>
<circle cx="620.2" cy="106.1" r="2.25" fill="url(#g3)"/>
<circle cx="621.7" cy="109.3" r="2.25" fill="url(#g3)"/>
<circle cx="623.3" cy="112.5" r="2.25" fill="url(#g3)"/>
<circle cx="624.9" cy="115.8" r="2.25" fill="url(#g3)"/>
<circle cx="626.5" cy="119.0" r="2.25" fill="url(#g3)"/>
<circle cx="628.1" cy="122.2" r="2.25" fill="url(#g3)"/>
<circle cx="629.8" cy="125.4" r="2.25" fill="url(#g3)"/>
<circle cx="631.5" cy="128.6" r="2.25" fill="url(#g3)"/>
<circle cx="633.4" cy="131.7" r="2.25" fill="url(#g3)"/>
<circle cx="635.3" cy="134.7" r="2.25" fill="url(#g3)"/>
<circle cx="637.4" cy="137.6" r="2.25" fill="url(#g3)"/>
<circle cx="639.4" cy="140.6" r="2.25" fill="url(#g3)"/>
<circle cx="641.3" cy="143.7" r="2.25" fill="url(#g3)"/>
<circle cx="643.1" cy="146.8" r="2.25" fill="url(#g3)"/>
<circle cx="644.7" cy="150.0" r="2.25" fill="url(#g3)"/>
<circle cx="645.8" cy="153.5" r="2.25" fill="url(#g3)"/>
</g>
<text x="518.00" y="89.90" font-size="9.4" text-anchor="start" font-weight="normal" >At 500&#176;C</text>
<circle cx="523.0" cy="97.5" r="2.75" fill="url(#g3)"/>
<text x="536.40" y="101.30" font-size="9.4" text-anchor="start" font-weight="normal" >3rd</text>
<circle cx="523.0" cy="108.9" r="2.75" fill="url(#g2)"/>
<text x="536.40" y="112.70" font-size="9.4" text-anchor="start" font-weight="normal" >7th</text>
<circle cx="523.0" cy="120.9" r="2.75" fill="url(#g1)"/>
<text x="536.40" y="124.70" font-size="9.4" text-anchor="start" font-weight="normal" >11th</text>
<circle cx="523.0" cy="132.2" r="2.75" fill="url(#g0)"/>
<text x="536.40" y="136.00" font-size="9.4" text-anchor="start" font-weight="normal" >15th</text>
<line x1="38.00" y1="323.00" x2="40.90" y2="323.00" stroke="#111111" stroke-width="1.05"/>
<text x="34.40" y="326.80" font-size="10.6" text-anchor="end" font-weight="normal" >0.00</text>
<line x1="38.00" y1="292.00" x2="39.80" y2="292.00" stroke="#111111" stroke-width="1.05"/>
<line x1="38.00" y1="261.00" x2="40.90" y2="261.00" stroke="#111111" stroke-width="1.05"/>
<text x="34.40" y="264.80" font-size="10.6" text-anchor="end" font-weight="normal" >0.05</text>
<line x1="38.00" y1="230.00" x2="39.80" y2="230.00" stroke="#111111" stroke-width="1.05"/>
<line x1="38.00" y1="199.00" x2="40.90" y2="199.00" stroke="#111111" stroke-width="1.05"/>
<text x="34.40" y="202.80" font-size="10.6" text-anchor="end" font-weight="normal" >0.10</text>
<line x1="73.06" y1="323.00" x2="73.06" y2="321.20" stroke="#111111" stroke-width="1.05"/>
<line x1="108.13" y1="323.00" x2="108.13" y2="320.10" stroke="#111111" stroke-width="1.05"/>
<line x1="143.19" y1="323.00" x2="143.19" y2="321.20" stroke="#111111" stroke-width="1.05"/>
<line x1="178.25" y1="323.00" x2="178.25" y2="320.10" stroke="#111111" stroke-width="1.05"/>
<line x1="213.31" y1="323.00" x2="213.31" y2="321.20" stroke="#111111" stroke-width="1.05"/>
<line x1="248.38" y1="323.00" x2="248.38" y2="320.10" stroke="#111111" stroke-width="1.05"/>
<line x1="283.44" y1="323.00" x2="283.44" y2="321.20" stroke="#111111" stroke-width="1.05"/>
<text x="38.00" y="335.10" font-size="10.3" text-anchor="middle" font-weight="normal" >0.10</text>
<text x="108.12" y="335.10" font-size="10.3" text-anchor="middle" font-weight="normal" >0.15</text>
<text x="178.25" y="335.10" font-size="10.3" text-anchor="middle" font-weight="normal" >0.20</text>
<text x="248.38" y="335.10" font-size="10.3" text-anchor="middle" font-weight="normal" >0.25</text>
<text x="318.50" y="335.10" font-size="10.3" text-anchor="middle" font-weight="normal" >0.30</text>
<text x="1.00" y="197.40" font-size="18.5" text-anchor="start" font-weight="bold" stroke="#000" stroke-width="0.35">d</text>
<text x="176.75" y="344.60" font-size="10.6" text-anchor="middle" font-weight="normal" ><tspan font-style="italic">Z&#8242;</tspan> (&#937; cm<tspan dy="-4.2" font-size="8.4">2</tspan><tspan dy="4.2">)</tspan></text>
<text x="0.00" y="0.00" font-size="10.4" text-anchor="middle" font-weight="normal" transform="translate(11.3,263.0) rotate(-90)">-<tspan font-style="italic">Z&#8243;</tspan>(&#937; cm<tspan dy="-4" font-size="7.6">2</tspan><tspan dy="4">)</tspan></text>
<g clip-path="url(#c3)">
<circle cx="129.8" cy="323.5" r="2.3" fill="url(#g11)"/>
<circle cx="130.4" cy="321.1" r="2.3" fill="url(#g11)"/>
<circle cx="131.4" cy="318.8" r="2.3" fill="url(#g11)"/>
<circle cx="132.9" cy="316.9" r="2.3" fill="url(#g11)"/>
<circle cx="134.7" cy="315.2" r="2.3" fill="url(#g11)"/>
<circle cx="136.5" cy="313.5" r="2.3" fill="url(#g11)"/>
<circle cx="138.8" cy="312.8" r="2.3" fill="url(#g11)"/>
<circle cx="141.3" cy="312.5" r="2.3" fill="url(#g11)"/>
<circle cx="143.7" cy="312.2" r="2.3" fill="url(#g11)"/>
<circle cx="146.1" cy="311.6" r="2.3" fill="url(#g11)"/>
<circle cx="148.6" cy="311.0" r="2.3" fill="url(#g11)"/>
<circle cx="151.0" cy="310.6" r="2.3" fill="url(#g11)"/>
<circle cx="153.4" cy="309.9" r="2.3" fill="url(#g11)"/>
<circle cx="155.7" cy="309.1" r="2.3" fill="url(#g11)"/>
<circle cx="158.0" cy="308.2" r="2.3" fill="url(#g11)"/>
<circle cx="160.3" cy="307.1" r="2.3" fill="url(#g11)"/>
<circle cx="162.6" cy="306.4" r="2.3" fill="url(#g11)"/>
<circle cx="165.0" cy="305.8" r="2.3" fill="url(#g11)"/>
<circle cx="167.2" cy="304.8" r="2.3" fill="url(#g11)"/>
<circle cx="169.2" cy="303.2" r="2.3" fill="url(#g11)"/>
<circle cx="171.1" cy="301.7" r="2.3" fill="url(#g11)"/>
<circle cx="173.0" cy="300.1" r="2.3" fill="url(#g11)"/>
<circle cx="174.7" cy="298.3" r="2.3" fill="url(#g11)"/>
<circle cx="176.6" cy="296.6" r="2.3" fill="url(#g11)"/>
<circle cx="178.9" cy="296.1" r="2.3" fill="url(#g11)"/>
<circle cx="181.4" cy="295.9" r="2.3" fill="url(#g11)"/>
<circle cx="183.9" cy="296.0" r="2.3" fill="url(#g11)"/>
<circle cx="186.4" cy="296.2" r="2.3" fill="url(#g11)"/>
<circle cx="188.8" cy="296.5" r="2.3" fill="url(#g11)"/>
<circle cx="191.3" cy="296.8" r="2.3" fill="url(#g11)"/>
<circle cx="193.7" cy="297.4" r="2.3" fill="url(#g11)"/>
<circle cx="196.1" cy="298.0" r="2.3" fill="url(#g11)"/>
<circle cx="198.4" cy="298.9" r="2.3" fill="url(#g11)"/>
<circle cx="200.7" cy="299.9" r="2.3" fill="url(#g11)"/>
<circle cx="202.8" cy="301.2" r="2.3" fill="url(#g11)"/>
<circle cx="204.8" cy="302.6" r="2.3" fill="url(#g11)"/>
<circle cx="206.8" cy="304.1" r="2.3" fill="url(#g11)"/>
<circle cx="208.8" cy="305.6" r="2.3" fill="url(#g11)"/>
<circle cx="210.7" cy="307.2" r="2.3" fill="url(#g11)"/>
<circle cx="212.5" cy="308.8" r="2.3" fill="url(#g11)"/>
<circle cx="214.4" cy="310.5" r="2.3" fill="url(#g11)"/>
<circle cx="216.2" cy="312.1" r="2.3" fill="url(#g11)"/>
<circle cx="218.1" cy="313.8" r="2.3" fill="url(#g11)"/>
<circle cx="219.9" cy="315.5" r="2.3" fill="url(#g11)"/>
<circle cx="221.5" cy="317.3" r="2.3" fill="url(#g11)"/>
<circle cx="223.1" cy="319.3" r="2.3" fill="url(#g11)"/>
<circle cx="224.4" cy="321.3" r="2.3" fill="url(#g11)"/>
<circle cx="225.7" cy="323.4" r="2.3" fill="url(#g11)"/>
<circle cx="130.0" cy="323.7" r="2.3" fill="url(#g12)"/>
<circle cx="130.6" cy="321.3" r="2.3" fill="url(#g12)"/>
<circle cx="131.6" cy="319.0" r="2.3" fill="url(#g12)"/>
<circle cx="133.1" cy="317.0" r="2.3" fill="url(#g12)"/>
<circle cx="135.0" cy="315.3" r="2.3" fill="url(#g12)"/>
<circle cx="136.8" cy="313.6" r="2.3" fill="url(#g12)"/>
<circle cx="139.2" cy="313.0" r="2.3" fill="url(#g12)"/>
<circle cx="141.7" cy="312.7" r="2.3" fill="url(#g12)"/>
<circle cx="144.2" cy="312.4" r="2.3" fill="url(#g12)"/>
<circle cx="146.6" cy="311.7" r="2.3" fill="url(#g12)"/>
<circle cx="149.0" cy="311.2" r="2.3" fill="url(#g12)"/>
<circle cx="151.5" cy="310.7" r="2.3" fill="url(#g12)"/>
<circle cx="153.9" cy="310.0" r="2.3" fill="url(#g12)"/>
<circle cx="156.3" cy="309.2" r="2.3" fill="url(#g12)"/>
<circle cx="158.6" cy="308.2" r="2.3" fill="url(#g12)"/>
<circle cx="160.9" cy="307.2" r="2.3" fill="url(#g12)"/>
<circle cx="163.2" cy="306.5" r="2.3" fill="url(#g12)"/>
<circle cx="165.7" cy="305.9" r="2.3" fill="url(#g12)"/>
<circle cx="167.9" cy="304.7" r="2.3" fill="url(#g12)"/>
<circle cx="170.0" cy="303.4" r="2.3" fill="url(#g12)"/>
<circle cx="172.1" cy="302.0" r="2.3" fill="url(#g12)"/>
<circle cx="174.0" cy="300.4" r="2.3" fill="url(#g12)"/>
<circle cx="175.7" cy="298.5" r="2.3" fill="url(#g12)"/>
<circle cx="178.0" cy="297.6" r="2.3" fill="url(#g12)"/>
<circle cx="180.5" cy="297.4" r="2.3" fill="url(#g12)"/>
<circle cx="183.0" cy="297.5" r="2.3" fill="url(#g12)"/>
<circle cx="185.5" cy="297.8" r="2.3" fill="url(#g12)"/>
<circle cx="187.9" cy="298.2" r="2.3" fill="url(#g12)"/>
<circle cx="190.4" cy="298.8" r="2.3" fill="url(#g12)"/>
<circle cx="192.8" cy="299.5" r="2.3" fill="url(#g12)"/>
<circle cx="195.1" cy="300.5" r="2.3" fill="url(#g12)"/>
<circle cx="197.2" cy="301.9" r="2.3" fill="url(#g12)"/>
<circle cx="199.2" cy="303.4" r="2.3" fill="url(#g12)"/>
<circle cx="201.1" cy="305.0" r="2.3" fill="url(#g12)"/>
<circle cx="203.0" cy="306.7" r="2.3" fill="url(#g12)"/>
<circle cx="204.8" cy="308.3" r="2.3" fill="url(#g12)"/>
<circle cx="206.6" cy="310.1" r="2.3" fill="url(#g12)"/>
<circle cx="208.4" cy="311.8" r="2.3" fill="url(#g12)"/>
<circle cx="210.3" cy="313.5" r="2.3" fill="url(#g12)"/>
<circle cx="212.0" cy="315.3" r="2.3" fill="url(#g12)"/>
<circle cx="213.7" cy="317.2" r="2.3" fill="url(#g12)"/>
<circle cx="215.1" cy="319.2" r="2.3" fill="url(#g12)"/>
<circle cx="216.4" cy="321.4" r="2.3" fill="url(#g12)"/>
<circle cx="217.6" cy="323.6" r="2.3" fill="url(#g12)"/>
<circle cx="129.4" cy="323.0" r="2.3" fill="url(#g13)"/>
<circle cx="130.0" cy="320.6" r="2.3" fill="url(#g13)"/>
<circle cx="131.0" cy="318.3" r="2.3" fill="url(#g13)"/>
<circle cx="132.5" cy="316.4" r="2.3" fill="url(#g13)"/>
<circle cx="134.3" cy="314.7" r="2.3" fill="url(#g13)"/>
<circle cx="136.1" cy="312.9" r="2.3" fill="url(#g13)"/>
<circle cx="138.5" cy="312.3" r="2.3" fill="url(#g13)"/>
<circle cx="140.9" cy="312.0" r="2.3" fill="url(#g13)"/>
<circle cx="143.4" cy="311.7" r="2.3" fill="url(#g13)"/>
<circle cx="145.8" cy="311.0" r="2.3" fill="url(#g13)"/>
<circle cx="148.2" cy="310.5" r="2.3" fill="url(#g13)"/>
<circle cx="150.7" cy="310.0" r="2.3" fill="url(#g13)"/>
<circle cx="153.1" cy="309.4" r="2.3" fill="url(#g13)"/>
<circle cx="155.4" cy="308.6" r="2.3" fill="url(#g13)"/>
<circle cx="157.7" cy="307.6" r="2.3" fill="url(#g13)"/>
<circle cx="160.0" cy="306.6" r="2.3" fill="url(#g13)"/>
<circle cx="162.3" cy="305.8" r="2.3" fill="url(#g13)"/>
<circle cx="164.8" cy="305.4" r="2.3" fill="url(#g13)"/>
<circle cx="167.2" cy="305.0" r="2.3" fill="url(#g13)"/>
<circle cx="169.7" cy="304.6" r="2.3" fill="url(#g13)"/>
<circle cx="172.1" cy="304.1" r="2.3" fill="url(#g13)"/>
<circle cx="174.2" cy="302.8" r="2.3" fill="url(#g13)"/>
<circle cx="176.0" cy="301.1" r="2.3" fill="url(#g13)"/>
<circle cx="178.4" cy="300.4" r="2.3" fill="url(#g13)"/>
<circle cx="180.9" cy="300.5" r="2.3" fill="url(#g13)"/>
<circle cx="183.3" cy="300.9" r="2.3" fill="url(#g13)"/>
<circle cx="185.7" cy="301.4" r="2.3" fill="url(#g13)"/>
<circle cx="188.1" cy="302.2" r="2.3" fill="url(#g13)"/>
<circle cx="190.3" cy="303.4" r="2.3" fill="url(#g13)"/>
<circle cx="192.2" cy="304.9" r="2.3" fill="url(#g13)"/>
<circle cx="193.9" cy="306.7" r="2.3" fill="url(#g13)"/>
<circle cx="195.7" cy="308.5" r="2.3" fill="url(#g13)"/>
<circle cx="197.5" cy="310.2" r="2.3" fill="url(#g13)"/>
<circle cx="199.3" cy="312.0" r="2.3" fill="url(#g13)"/>
<circle cx="201.0" cy="313.7" r="2.3" fill="url(#g13)"/>
<circle cx="202.7" cy="315.5" r="2.3" fill="url(#g13)"/>
<circle cx="204.3" cy="317.4" r="2.3" fill="url(#g13)"/>
<circle cx="205.8" cy="319.4" r="2.3" fill="url(#g13)"/>
<circle cx="207.0" cy="321.6" r="2.3" fill="url(#g13)"/>
<circle cx="208.0" cy="323.9" r="2.3" fill="url(#g13)"/>
<circle cx="129.0" cy="322.5" r="2.3" fill="url(#g14)"/>
<circle cx="129.6" cy="320.0" r="2.3" fill="url(#g14)"/>
<circle cx="130.6" cy="317.7" r="2.3" fill="url(#g14)"/>
<circle cx="132.2" cy="315.8" r="2.3" fill="url(#g14)"/>
<circle cx="134.0" cy="314.1" r="2.3" fill="url(#g14)"/>
<circle cx="135.9" cy="312.3" r="2.3" fill="url(#g14)"/>
<circle cx="138.3" cy="311.8" r="2.3" fill="url(#g14)"/>
<circle cx="140.8" cy="311.5" r="2.3" fill="url(#g14)"/>
<circle cx="143.3" cy="311.1" r="2.3" fill="url(#g14)"/>
<circle cx="145.8" cy="310.5" r="2.3" fill="url(#g14)"/>
<circle cx="148.3" cy="309.9" r="2.3" fill="url(#g14)"/>
<circle cx="150.7" cy="309.4" r="2.3" fill="url(#g14)"/>
<circle cx="153.2" cy="308.7" r="2.3" fill="url(#g14)"/>
<circle cx="155.5" cy="307.9" r="2.3" fill="url(#g14)"/>
<circle cx="157.9" cy="306.9" r="2.3" fill="url(#g14)"/>
<circle cx="160.2" cy="305.8" r="2.3" fill="url(#g14)"/>
<circle cx="162.6" cy="305.2" r="2.3" fill="url(#g14)"/>
<circle cx="165.1" cy="304.8" r="2.3" fill="url(#g14)"/>
<circle cx="167.4" cy="303.8" r="2.3" fill="url(#g14)"/>
<circle cx="169.6" cy="302.6" r="2.3" fill="url(#g14)"/>
<circle cx="171.9" cy="301.4" r="2.3" fill="url(#g14)"/>
<circle cx="173.8" cy="299.7" r="2.3" fill="url(#g14)"/>
<circle cx="175.3" cy="297.7" r="2.3" fill="url(#g14)"/>
<circle cx="177.5" cy="296.6" r="2.3" fill="url(#g14)"/>
<circle cx="180.0" cy="296.4" r="2.3" fill="url(#g14)"/>
<circle cx="182.5" cy="296.7" r="2.3" fill="url(#g14)"/>
<circle cx="185.0" cy="297.0" r="2.3" fill="url(#g14)"/>
<circle cx="187.5" cy="297.7" r="2.3" fill="url(#g14)"/>
<circle cx="189.9" cy="298.6" r="2.3" fill="url(#g14)"/>
<circle cx="192.1" cy="299.8" r="2.3" fill="url(#g14)"/>
<circle cx="194.0" cy="301.3" r="2.3" fill="url(#g14)"/>
<circle cx="195.8" cy="303.1" r="2.3" fill="url(#g14)"/>
<circle cx="197.6" cy="304.9" r="2.3" fill="url(#g14)"/>
<circle cx="199.3" cy="306.8" r="2.3" fill="url(#g14)"/>
<circle cx="200.9" cy="308.8" r="2.3" fill="url(#g14)"/>
<circle cx="202.5" cy="310.7" r="2.3" fill="url(#g14)"/>
<circle cx="204.1" cy="312.7" r="2.3" fill="url(#g14)"/>
<circle cx="205.7" cy="314.7" r="2.3" fill="url(#g14)"/>
<circle cx="207.1" cy="316.7" r="2.3" fill="url(#g14)"/>
<circle cx="208.4" cy="318.9" r="2.3" fill="url(#g14)"/>
<circle cx="209.5" cy="321.2" r="2.3" fill="url(#g14)"/>
<circle cx="210.5" cy="323.5" r="2.3" fill="url(#g14)"/>
</g>
<text x="253.10" y="219.70" font-size="10.2" text-anchor="start" font-weight="normal" >At 600 &#176;C</text>
<circle cx="264.3" cy="228.0" r="2.75" fill="url(#g14)"/>
<text x="279.20" y="231.80" font-size="10.2" text-anchor="start" font-weight="normal" >1st</text>
<circle cx="264.3" cy="240.6" r="2.75" fill="url(#g13)"/>
<text x="279.20" y="244.40" font-size="10.2" text-anchor="start" font-weight="normal" >5th</text>
<circle cx="264.3" cy="253.2" r="2.75" fill="url(#g12)"/>
<text x="279.20" y="257.00" font-size="10.2" text-anchor="start" font-weight="normal" >9th</text>
<circle cx="264.3" cy="266.0" r="2.75" fill="url(#g11)"/>
<text x="279.20" y="269.80" font-size="10.2" text-anchor="start" font-weight="normal" >13th</text>
<line x1="385.90" y1="323.10" x2="388.80" y2="323.10" stroke="#111111" stroke-width="1.05"/>
<text x="382.30" y="326.90" font-size="10.6" text-anchor="end" font-weight="normal" >0.00</text>
<line x1="385.90" y1="291.93" x2="387.70" y2="291.93" stroke="#111111" stroke-width="1.05"/>
<line x1="385.90" y1="260.75" x2="388.80" y2="260.75" stroke="#111111" stroke-width="1.05"/>
<text x="382.30" y="264.55" font-size="10.6" text-anchor="end" font-weight="normal" >0.05</text>
<line x1="385.90" y1="229.57" x2="387.70" y2="229.57" stroke="#111111" stroke-width="1.05"/>
<line x1="385.90" y1="198.40" x2="388.80" y2="198.40" stroke="#111111" stroke-width="1.05"/>
<text x="382.30" y="202.20" font-size="10.6" text-anchor="end" font-weight="normal" >0.10</text>
<line x1="392.92" y1="323.10" x2="392.92" y2="321.30" stroke="#111111" stroke-width="1.05"/>
<line x1="428.04" y1="323.10" x2="428.04" y2="320.20" stroke="#111111" stroke-width="1.05"/>
<line x1="463.15" y1="323.10" x2="463.15" y2="321.30" stroke="#111111" stroke-width="1.05"/>
<line x1="498.26" y1="323.10" x2="498.26" y2="320.20" stroke="#111111" stroke-width="1.05"/>
<line x1="533.37" y1="323.10" x2="533.37" y2="321.30" stroke="#111111" stroke-width="1.05"/>
<line x1="568.48" y1="323.10" x2="568.48" y2="320.20" stroke="#111111" stroke-width="1.05"/>
<line x1="603.60" y1="323.10" x2="603.60" y2="321.30" stroke="#111111" stroke-width="1.05"/>
<line x1="638.71" y1="323.10" x2="638.71" y2="320.20" stroke="#111111" stroke-width="1.05"/>
<text x="428.03" y="335.20" font-size="10.3" text-anchor="middle" font-weight="normal" >0.15</text>
<text x="498.26" y="335.20" font-size="10.3" text-anchor="middle" font-weight="normal" >0.20</text>
<text x="568.48" y="335.20" font-size="10.3" text-anchor="middle" font-weight="normal" >0.25</text>
<text x="638.71" y="335.20" font-size="10.3" text-anchor="middle" font-weight="normal" >0.30</text>
<text x="348.00" y="204.70" font-size="18.5" text-anchor="start" font-weight="bold" stroke="#000" stroke-width="0.35">e</text>
<text x="524.85" y="344.70" font-size="10.6" text-anchor="middle" font-weight="normal" ><tspan font-style="italic">Z&#8242;</tspan> (&#937; cm<tspan dy="-4.2" font-size="8.4">2</tspan><tspan dy="4.2">)</tspan></text>
<text x="0.00" y="0.00" font-size="10.4" text-anchor="middle" font-weight="normal" transform="translate(357.6,262.8) rotate(-90)">-<tspan font-style="italic">Z&#8243;</tspan>(&#937; cm<tspan dy="-4" font-size="7.6">2</tspan><tspan dy="4">)</tspan></text>
<g clip-path="url(#c4)">
<circle cx="471.1" cy="322.2" r="2.45" fill="url(#g15)"/>
<circle cx="472.1" cy="318.1" r="2.45" fill="url(#g15)"/>
<circle cx="473.7" cy="314.1" r="2.45" fill="url(#g15)"/>
<circle cx="476.3" cy="310.7" r="2.45" fill="url(#g15)"/>
<circle cx="480.2" cy="309.2" r="2.45" fill="url(#g15)"/>
<circle cx="484.3" cy="308.3" r="2.45" fill="url(#g15)"/>
<circle cx="488.6" cy="309.0" r="2.45" fill="url(#g15)"/>
<circle cx="492.5" cy="307.9" r="2.45" fill="url(#g15)"/>
<circle cx="496.0" cy="305.6" r="2.45" fill="url(#g15)"/>
<circle cx="500.1" cy="304.6" r="2.45" fill="url(#g15)"/>
<circle cx="504.2" cy="303.3" r="2.45" fill="url(#g15)"/>
<circle cx="508.1" cy="301.6" r="2.45" fill="url(#g15)"/>
<circle cx="510.8" cy="298.4" r="2.45" fill="url(#g15)"/>
<circle cx="513.0" cy="294.8" r="2.45" fill="url(#g15)"/>
<circle cx="516.3" cy="292.0" r="2.45" fill="url(#g15)"/>
<circle cx="519.8" cy="289.7" r="2.45" fill="url(#g15)"/>
<circle cx="523.8" cy="288.1" r="2.45" fill="url(#g15)"/>
<circle cx="527.8" cy="286.8" r="2.45" fill="url(#g15)"/>
<circle cx="532.1" cy="286.9" r="2.45" fill="url(#g15)"/>
<circle cx="536.4" cy="287.2" r="2.45" fill="url(#g15)"/>
<circle cx="540.6" cy="287.7" r="2.45" fill="url(#g15)"/>
<circle cx="544.9" cy="288.1" r="2.45" fill="url(#g15)"/>
<circle cx="549.1" cy="288.6" r="2.45" fill="url(#g15)"/>
<circle cx="553.4" cy="289.0" r="2.45" fill="url(#g15)"/>
<circle cx="557.6" cy="289.6" r="2.45" fill="url(#g15)"/>
<circle cx="561.8" cy="290.2" r="2.45" fill="url(#g15)"/>
<circle cx="566.0" cy="291.2" r="2.45" fill="url(#g15)"/>
<circle cx="569.9" cy="292.8" r="2.45" fill="url(#g15)"/>
<circle cx="573.6" cy="294.9" r="2.45" fill="url(#g15)"/>
<circle cx="577.1" cy="297.4" r="2.45" fill="url(#g15)"/>
<circle cx="582.5" cy="300.2" r="2.45" fill="url(#g15)"/>
<circle cx="585.5" cy="303.3" r="2.45" fill="url(#g15)"/>
<circle cx="583.9" cy="306.5" r="2.45" fill="url(#g15)"/>
<circle cx="586.4" cy="310.0" r="2.45" fill="url(#g15)"/>
<circle cx="593.4" cy="313.4" r="2.45" fill="url(#g15)"/>
<circle cx="595.5" cy="317.1" r="2.45" fill="url(#g15)"/>
<circle cx="592.8" cy="321.0" r="2.45" fill="url(#g15)"/>
<circle cx="471.3" cy="322.5" r="2.45" fill="url(#g16)"/>
<circle cx="472.3" cy="318.4" r="2.45" fill="url(#g16)"/>
<circle cx="473.9" cy="314.4" r="2.45" fill="url(#g16)"/>
<circle cx="476.5" cy="311.0" r="2.45" fill="url(#g16)"/>
<circle cx="480.4" cy="309.5" r="2.45" fill="url(#g16)"/>
<circle cx="484.6" cy="308.6" r="2.45" fill="url(#g16)"/>
<circle cx="488.8" cy="309.3" r="2.45" fill="url(#g16)"/>
<circle cx="492.8" cy="308.1" r="2.45" fill="url(#g16)"/>
<circle cx="496.2" cy="305.9" r="2.45" fill="url(#g16)"/>
<circle cx="500.4" cy="304.9" r="2.45" fill="url(#g16)"/>
<circle cx="504.4" cy="303.5" r="2.45" fill="url(#g16)"/>
<circle cx="508.3" cy="301.9" r="2.45" fill="url(#g16)"/>
<circle cx="511.0" cy="298.6" r="2.45" fill="url(#g16)"/>
<circle cx="513.3" cy="295.1" r="2.45" fill="url(#g16)"/>
<circle cx="516.7" cy="292.5" r="2.45" fill="url(#g16)"/>
<circle cx="520.5" cy="290.6" r="2.45" fill="url(#g16)"/>
<circle cx="524.6" cy="289.5" r="2.45" fill="url(#g16)"/>
<circle cx="528.8" cy="288.8" r="2.45" fill="url(#g16)"/>
<circle cx="533.1" cy="289.1" r="2.45" fill="url(#g16)"/>
<circle cx="537.4" cy="289.5" r="2.45" fill="url(#g16)"/>
<circle cx="541.6" cy="290.0" r="2.45" fill="url(#g16)"/>
<circle cx="545.9" cy="290.4" r="2.45" fill="url(#g16)"/>
<circle cx="550.1" cy="290.8" r="2.45" fill="url(#g16)"/>
<circle cx="554.4" cy="291.3" r="2.45" fill="url(#g16)"/>
<circle cx="558.6" cy="291.9" r="2.45" fill="url(#g16)"/>
<circle cx="562.8" cy="292.6" r="2.45" fill="url(#g16)"/>
<circle cx="566.9" cy="293.9" r="2.45" fill="url(#g16)"/>
<circle cx="570.7" cy="295.8" r="2.45" fill="url(#g16)"/>
<circle cx="574.4" cy="298.0" r="2.45" fill="url(#g16)"/>
<circle cx="575.6" cy="300.6" r="2.45" fill="url(#g16)"/>
<circle cx="583.2" cy="303.5" r="2.45" fill="url(#g16)"/>
<circle cx="586.1" cy="306.6" r="2.45" fill="url(#g16)"/>
<circle cx="584.4" cy="310.0" r="2.45" fill="url(#g16)"/>
<circle cx="587.0" cy="313.4" r="2.45" fill="url(#g16)"/>
<circle cx="593.5" cy="317.1" r="2.45" fill="url(#g16)"/>
<circle cx="595.2" cy="321.0" r="2.45" fill="url(#g16)"/>
<circle cx="471.5" cy="322.8" r="2.45" fill="url(#g17)"/>
<circle cx="472.6" cy="318.6" r="2.45" fill="url(#g17)"/>
<circle cx="474.2" cy="314.6" r="2.45" fill="url(#g17)"/>
<circle cx="476.7" cy="311.2" r="2.45" fill="url(#g17)"/>
<circle cx="480.7" cy="309.7" r="2.45" fill="url(#g17)"/>
<circle cx="484.9" cy="308.9" r="2.45" fill="url(#g17)"/>
<circle cx="489.2" cy="309.6" r="2.45" fill="url(#g17)"/>
<circle cx="493.1" cy="308.2" r="2.45" fill="url(#g17)"/>
<circle cx="496.7" cy="306.1" r="2.45" fill="url(#g17)"/>
<circle cx="500.9" cy="305.1" r="2.45" fill="url(#g17)"/>
<circle cx="504.9" cy="303.7" r="2.45" fill="url(#g17)"/>
<circle cx="508.9" cy="302.0" r="2.45" fill="url(#g17)"/>
<circle cx="511.3" cy="298.5" r="2.45" fill="url(#g17)"/>
<circle cx="513.8" cy="295.1" r="2.45" fill="url(#g17)"/>
<circle cx="517.3" cy="292.6" r="2.45" fill="url(#g17)"/>
<circle cx="521.3" cy="291.1" r="2.45" fill="url(#g17)"/>
<circle cx="525.6" cy="290.3" r="2.45" fill="url(#g17)"/>
<circle cx="529.9" cy="290.1" r="2.45" fill="url(#g17)"/>
<circle cx="534.2" cy="290.5" r="2.45" fill="url(#g17)"/>
<circle cx="538.5" cy="291.0" r="2.45" fill="url(#g17)"/>
<circle cx="542.8" cy="291.4" r="2.45" fill="url(#g17)"/>
<circle cx="547.0" cy="291.8" r="2.45" fill="url(#g17)"/>
<circle cx="551.3" cy="292.3" r="2.45" fill="url(#g17)"/>
<circle cx="555.6" cy="292.8" r="2.45" fill="url(#g17)"/>
<circle cx="559.9" cy="293.5" r="2.45" fill="url(#g17)"/>
<circle cx="564.0" cy="294.6" r="2.45" fill="url(#g17)"/>
<circle cx="568.0" cy="296.3" r="2.45" fill="url(#g17)"/>
<circle cx="571.8" cy="298.4" r="2.45" fill="url(#g17)"/>
<circle cx="573.1" cy="300.8" r="2.45" fill="url(#g17)"/>
<circle cx="576.4" cy="303.6" r="2.45" fill="url(#g17)"/>
<circle cx="583.9" cy="306.6" r="2.45" fill="url(#g17)"/>
<circle cx="586.7" cy="309.9" r="2.45" fill="url(#g17)"/>
<circle cx="584.9" cy="313.3" r="2.45" fill="url(#g17)"/>
<circle cx="587.1" cy="317.0" r="2.45" fill="url(#g17)"/>
<circle cx="593.2" cy="321.0" r="2.45" fill="url(#g17)"/>
<circle cx="471.8" cy="323.2" r="2.45" fill="url(#g18)"/>
<circle cx="472.9" cy="319.0" r="2.45" fill="url(#g18)"/>
<circle cx="474.5" cy="315.0" r="2.45" fill="url(#g18)"/>
<circle cx="477.1" cy="311.5" r="2.45" fill="url(#g18)"/>
<circle cx="481.2" cy="310.1" r="2.45" fill="url(#g18)"/>
<circle cx="485.5" cy="309.3" r="2.45" fill="url(#g18)"/>
<circle cx="489.8" cy="310.0" r="2.45" fill="url(#g18)"/>
<circle cx="493.6" cy="308.4" r="2.45" fill="url(#g18)"/>
<circle cx="497.3" cy="306.5" r="2.45" fill="url(#g18)"/>
<circle cx="501.6" cy="305.4" r="2.45" fill="url(#g18)"/>
<circle cx="505.7" cy="303.9" r="2.45" fill="url(#g18)"/>
<circle cx="509.6" cy="302.1" r="2.45" fill="url(#g18)"/>
<circle cx="511.8" cy="298.4" r="2.45" fill="url(#g18)"/>
<circle cx="514.5" cy="295.1" r="2.45" fill="url(#g18)"/>
<circle cx="518.1" cy="292.6" r="2.45" fill="url(#g18)"/>
<circle cx="522.3" cy="291.5" r="2.45" fill="url(#g18)"/>
<circle cx="526.6" cy="291.1" r="2.45" fill="url(#g18)"/>
<circle cx="531.0" cy="291.2" r="2.45" fill="url(#g18)"/>
<circle cx="535.3" cy="291.6" r="2.45" fill="url(#g18)"/>
<circle cx="539.7" cy="292.1" r="2.45" fill="url(#g18)"/>
<circle cx="544.0" cy="292.5" r="2.45" fill="url(#g18)"/>
<circle cx="548.3" cy="293.0" r="2.45" fill="url(#g18)"/>
<circle cx="552.7" cy="293.5" r="2.45" fill="url(#g18)"/>
<circle cx="557.0" cy="294.1" r="2.45" fill="url(#g18)"/>
<circle cx="561.2" cy="295.1" r="2.45" fill="url(#g18)"/>
<circle cx="565.3" cy="296.7" r="2.45" fill="url(#g18)"/>
<circle cx="569.2" cy="298.6" r="2.45" fill="url(#g18)"/>
<circle cx="572.9" cy="300.9" r="2.45" fill="url(#g18)"/>
<circle cx="574.1" cy="303.6" r="2.45" fill="url(#g18)"/>
<circle cx="577.3" cy="306.6" r="2.45" fill="url(#g18)"/>
<circle cx="584.6" cy="309.8" r="2.45" fill="url(#g18)"/>
<circle cx="587.3" cy="313.2" r="2.45" fill="url(#g18)"/>
<circle cx="585.1" cy="317.0" r="2.45" fill="url(#g18)"/>
<circle cx="586.8" cy="321.0" r="2.45" fill="url(#g18)"/>
<circle cx="471.5" cy="322.8" r="2.45" fill="url(#g19)"/>
<circle cx="472.3" cy="319.4" r="2.45" fill="url(#g19)"/>
<circle cx="473.5" cy="316.0" r="2.45" fill="url(#g19)"/>
<circle cx="475.3" cy="312.9" r="2.45" fill="url(#g19)"/>
<circle cx="477.7" cy="310.5" r="2.45" fill="url(#g19)"/>
<circle cx="481.2" cy="309.6" r="2.45" fill="url(#g19)"/>
<circle cx="484.7" cy="308.9" r="2.45" fill="url(#g19)"/>
<circle cx="488.1" cy="309.5" r="2.45" fill="url(#g19)"/>
<circle cx="491.6" cy="309.3" r="2.45" fill="url(#g19)"/>
<circle cx="494.2" cy="307.0" r="2.45" fill="url(#g19)"/>
<circle cx="497.6" cy="306.0" r="2.45" fill="url(#g19)"/>
<circle cx="501.0" cy="305.1" r="2.45" fill="url(#g19)"/>
<circle cx="504.4" cy="303.9" r="2.45" fill="url(#g19)"/>
<circle cx="507.7" cy="302.6" r="2.45" fill="url(#g19)"/>
<circle cx="510.4" cy="300.5" r="2.45" fill="url(#g19)"/>
<circle cx="511.9" cy="297.2" r="2.45" fill="url(#g19)"/>
<circle cx="514.5" cy="295.0" r="2.45" fill="url(#g19)"/>
<circle cx="517.6" cy="293.3" r="2.45" fill="url(#g19)"/>
<circle cx="521.1" cy="292.6" r="2.45" fill="url(#g19)"/>
<circle cx="524.6" cy="292.4" r="2.45" fill="url(#g19)"/>
<circle cx="528.2" cy="292.5" r="2.45" fill="url(#g19)"/>
<circle cx="531.7" cy="292.7" r="2.45" fill="url(#g19)"/>
<circle cx="535.2" cy="293.1" r="2.45" fill="url(#g19)"/>
<circle cx="538.8" cy="293.5" r="2.45" fill="url(#g19)"/>
<circle cx="542.3" cy="293.9" r="2.45" fill="url(#g19)"/>
<circle cx="545.8" cy="294.3" r="2.45" fill="url(#g19)"/>
<circle cx="549.3" cy="294.8" r="2.45" fill="url(#g19)"/>
<circle cx="552.8" cy="295.4" r="2.45" fill="url(#g19)"/>
<circle cx="556.3" cy="296.1" r="2.45" fill="url(#g19)"/>
<circle cx="559.6" cy="297.3" r="2.45" fill="url(#g19)"/>
<circle cx="562.9" cy="298.6" r="2.45" fill="url(#g19)"/>
<circle cx="566.1" cy="300.2" r="2.45" fill="url(#g19)"/>
<circle cx="566.9" cy="302.1" r="2.45" fill="url(#g19)"/>
<circle cx="569.7" cy="304.2" r="2.45" fill="url(#g19)"/>
<circle cx="576.8" cy="306.5" r="2.45" fill="url(#g19)"/>
<circle cx="579.4" cy="309.0" r="2.45" fill="url(#g19)"/>
<circle cx="577.3" cy="311.7" r="2.45" fill="url(#g19)"/>
<circle cx="579.3" cy="314.6" r="2.45" fill="url(#g19)"/>
<circle cx="585.3" cy="317.7" r="2.45" fill="url(#g19)"/>
<circle cx="586.7" cy="321.0" r="2.45" fill="url(#g19)"/>
<circle cx="471.1" cy="322.2" r="2.45" fill="url(#g20)"/>
<circle cx="471.9" cy="318.8" r="2.45" fill="url(#g20)"/>
<circle cx="473.1" cy="315.6" r="2.45" fill="url(#g20)"/>
<circle cx="474.7" cy="312.5" r="2.45" fill="url(#g20)"/>
<circle cx="477.1" cy="310.0" r="2.45" fill="url(#g20)"/>
<circle cx="480.4" cy="309.1" r="2.45" fill="url(#g20)"/>
<circle cx="483.8" cy="308.4" r="2.45" fill="url(#g20)"/>
<circle cx="487.2" cy="308.8" r="2.45" fill="url(#g20)"/>
<circle cx="490.6" cy="308.8" r="2.45" fill="url(#g20)"/>
<circle cx="493.3" cy="306.9" r="2.45" fill="url(#g20)"/>
<circle cx="496.4" cy="305.5" r="2.45" fill="url(#g20)"/>
<circle cx="499.8" cy="304.8" r="2.45" fill="url(#g20)"/>
<circle cx="503.1" cy="303.7" r="2.45" fill="url(#g20)"/>
<circle cx="506.3" cy="302.4" r="2.45" fill="url(#g20)"/>
<circle cx="509.3" cy="300.8" r="2.45" fill="url(#g20)"/>
<circle cx="510.9" cy="297.8" r="2.45" fill="url(#g20)"/>
<circle cx="513.2" cy="295.2" r="2.45" fill="url(#g20)"/>
<circle cx="516.3" cy="293.8" r="2.45" fill="url(#g20)"/>
<circle cx="519.7" cy="293.0" r="2.45" fill="url(#g20)"/>
<circle cx="523.1" cy="292.8" r="2.45" fill="url(#g20)"/>
<circle cx="526.6" cy="292.8" r="2.45" fill="url(#g20)"/>
<circle cx="530.0" cy="293.1" r="2.45" fill="url(#g20)"/>
<circle cx="533.5" cy="293.5" r="2.45" fill="url(#g20)"/>
<circle cx="536.9" cy="293.8" r="2.45" fill="url(#g20)"/>
<circle cx="540.4" cy="294.2" r="2.45" fill="url(#g20)"/>
<circle cx="543.7" cy="294.9" r="2.45" fill="url(#g20)"/>
<circle cx="547.1" cy="295.8" r="2.45" fill="url(#g20)"/>
<circle cx="550.4" cy="296.8" r="2.45" fill="url(#g20)"/>
<circle cx="553.7" cy="297.9" r="2.45" fill="url(#g20)"/>
<circle cx="556.9" cy="299.2" r="2.45" fill="url(#g20)"/>
<circle cx="560.0" cy="300.7" r="2.45" fill="url(#g20)"/>
<circle cx="565.1" cy="302.6" r="2.45" fill="url(#g20)"/>
<circle cx="563.5" cy="304.6" r="2.45" fill="url(#g20)"/>
<circle cx="566.2" cy="306.8" r="2.45" fill="url(#g20)"/>
<circle cx="573.1" cy="309.2" r="2.45" fill="url(#g20)"/>
<circle cx="575.3" cy="311.9" r="2.45" fill="url(#g20)"/>
<circle cx="572.9" cy="314.7" r="2.45" fill="url(#g20)"/>
<circle cx="574.5" cy="317.8" r="2.45" fill="url(#g20)"/>
<circle cx="580.2" cy="321.0" r="2.45" fill="url(#g20)"/>
<circle cx="470.3" cy="321.0" r="2.45" fill="url(#g21)"/>
<circle cx="471.1" cy="317.6" r="2.45" fill="url(#g21)"/>
<circle cx="472.2" cy="314.4" r="2.45" fill="url(#g21)"/>
<circle cx="473.9" cy="311.4" r="2.45" fill="url(#g21)"/>
<circle cx="476.2" cy="308.8" r="2.45" fill="url(#g21)"/>
<circle cx="479.6" cy="307.9" r="2.45" fill="url(#g21)"/>
<circle cx="482.9" cy="307.2" r="2.45" fill="url(#g21)"/>
<circle cx="486.3" cy="307.6" r="2.45" fill="url(#g21)"/>
<circle cx="489.8" cy="307.6" r="2.45" fill="url(#g21)"/>
<circle cx="492.5" cy="305.7" r="2.45" fill="url(#g21)"/>
<circle cx="495.5" cy="304.3" r="2.45" fill="url(#g21)"/>
<circle cx="498.9" cy="303.6" r="2.45" fill="url(#g21)"/>
<circle cx="502.2" cy="302.5" r="2.45" fill="url(#g21)"/>
<circle cx="505.4" cy="301.2" r="2.45" fill="url(#g21)"/>
<circle cx="508.5" cy="299.6" r="2.45" fill="url(#g21)"/>
<circle cx="510.2" cy="296.7" r="2.45" fill="url(#g21)"/>
<circle cx="512.6" cy="294.4" r="2.45" fill="url(#g21)"/>
<circle cx="515.9" cy="293.5" r="2.45" fill="url(#g21)"/>
<circle cx="519.4" cy="293.1" r="2.45" fill="url(#g21)"/>
<circle cx="522.8" cy="293.1" r="2.45" fill="url(#g21)"/>
<circle cx="526.3" cy="293.2" r="2.45" fill="url(#g21)"/>
<circle cx="529.7" cy="293.5" r="2.45" fill="url(#g21)"/>
<circle cx="533.2" cy="293.9" r="2.45" fill="url(#g21)"/>
<circle cx="536.6" cy="294.2" r="2.45" fill="url(#g21)"/>
<circle cx="540.0" cy="294.7" r="2.45" fill="url(#g21)"/>
<circle cx="543.4" cy="295.4" r="2.45" fill="url(#g21)"/>
<circle cx="546.7" cy="296.6" r="2.45" fill="url(#g21)"/>
<circle cx="549.9" cy="297.9" r="2.45" fill="url(#g21)"/>
<circle cx="552.9" cy="299.4" r="2.45" fill="url(#g21)"/>
<circle cx="555.8" cy="301.4" r="2.45" fill="url(#g21)"/>
<circle cx="558.3" cy="303.7" r="2.45" fill="url(#g21)"/>
<circle cx="560.8" cy="306.2" r="2.45" fill="url(#g21)"/>
<circle cx="563.1" cy="308.8" r="2.45" fill="url(#g21)"/>
<circle cx="565.1" cy="311.5" r="2.45" fill="url(#g21)"/>
<circle cx="567.0" cy="314.5" r="2.45" fill="url(#g21)"/>
<circle cx="568.4" cy="317.6" r="2.45" fill="url(#g21)"/>
<circle cx="569.0" cy="321.0" r="2.45" fill="url(#g21)"/>
</g>
<text x="601.30" y="218.90" font-size="10.2" text-anchor="start" font-weight="normal" >At 550 &#176;C</text>
<circle cx="612.8" cy="227.6" r="2.75" fill="url(#g21)"/>
<text x="627.50" y="231.40" font-size="10.2" text-anchor="start" font-weight="normal" >2nd</text>
<circle cx="612.8" cy="240.2" r="2.75" fill="url(#g20)"/>
<text x="627.50" y="244.00" font-size="10.2" text-anchor="start" font-weight="normal" >4th</text>
<circle cx="612.8" cy="253.2" r="2.75" fill="url(#g19)"/>
<text x="627.50" y="257.00" font-size="10.2" text-anchor="start" font-weight="normal" >6th</text>
<circle cx="612.8" cy="265.8" r="2.75" fill="url(#g18)"/>
<text x="627.50" y="269.60" font-size="10.2" text-anchor="start" font-weight="normal" >8th</text>
<circle cx="612.8" cy="278.4" r="2.75" fill="url(#g17)"/>
<text x="627.50" y="282.20" font-size="10.2" text-anchor="start" font-weight="normal" >10th</text>
<circle cx="612.8" cy="291.0" r="2.75" fill="url(#g16)"/>
<text x="627.50" y="294.80" font-size="10.2" text-anchor="start" font-weight="normal" >12th</text>
<circle cx="612.8" cy="303.5" r="2.75" fill="url(#g15)"/>
<text x="627.50" y="307.30" font-size="10.2" text-anchor="start" font-weight="normal" >14th</text>
<line x1="37.30" y1="474.60" x2="40.20" y2="474.60" stroke="#111111" stroke-width="1.05"/>
<text x="33.70" y="478.40" font-size="10.6" text-anchor="end" font-weight="normal" >0.00</text>
<line x1="37.30" y1="443.50" x2="39.10" y2="443.50" stroke="#111111" stroke-width="1.05"/>
<line x1="37.30" y1="412.40" x2="40.20" y2="412.40" stroke="#111111" stroke-width="1.05"/>
<text x="33.70" y="416.20" font-size="10.6" text-anchor="end" font-weight="normal" >0.05</text>
<line x1="37.30" y1="381.30" x2="39.10" y2="381.30" stroke="#111111" stroke-width="1.05"/>
<line x1="37.30" y1="350.20" x2="40.20" y2="350.20" stroke="#111111" stroke-width="1.05"/>
<text x="33.70" y="354.00" font-size="10.6" text-anchor="end" font-weight="normal" >0.10</text>
<line x1="72.43" y1="474.60" x2="72.43" y2="472.80" stroke="#111111" stroke-width="1.05"/>
<line x1="107.55" y1="474.60" x2="107.55" y2="471.70" stroke="#111111" stroke-width="1.05"/>
<line x1="142.68" y1="474.60" x2="142.68" y2="472.80" stroke="#111111" stroke-width="1.05"/>
<line x1="177.80" y1="474.60" x2="177.80" y2="471.70" stroke="#111111" stroke-width="1.05"/>
<line x1="212.93" y1="474.60" x2="212.93" y2="472.80" stroke="#111111" stroke-width="1.05"/>
<line x1="248.05" y1="474.60" x2="248.05" y2="471.70" stroke="#111111" stroke-width="1.05"/>
<line x1="283.18" y1="474.60" x2="283.18" y2="472.80" stroke="#111111" stroke-width="1.05"/>
<text x="37.30" y="486.70" font-size="10.3" text-anchor="middle" font-weight="normal" >0.15</text>
<text x="107.55" y="486.70" font-size="10.3" text-anchor="middle" font-weight="normal" >0.20</text>
<text x="177.80" y="486.70" font-size="10.3" text-anchor="middle" font-weight="normal" >0.25</text>
<text x="248.05" y="486.70" font-size="10.3" text-anchor="middle" font-weight="normal" >0.30</text>
<text x="318.30" y="486.70" font-size="10.3" text-anchor="middle" font-weight="normal" >0.35</text>
<text x="2.00" y="355.30" font-size="18.5" text-anchor="start" font-weight="bold" stroke="#000" stroke-width="0.35">f</text>
<text x="176.30" y="496.20" font-size="10.6" text-anchor="middle" font-weight="normal" ><tspan font-style="italic">Z&#8242;</tspan> (&#937; cm<tspan dy="-4.2" font-size="8.4">2</tspan><tspan dy="4.2">)</tspan></text>
<text x="0.00" y="0.00" font-size="10.4" text-anchor="middle" font-weight="normal" transform="translate(10.6,414.4) rotate(-90)">-<tspan font-style="italic">Z&#8243;</tspan>(&#937; cm<tspan dy="-4" font-size="7.6">2</tspan><tspan dy="4">)</tspan></text>
<g clip-path="url(#c5)">
<circle cx="103.7" cy="473.9" r="2.5" fill="url(#g11)"/>
<circle cx="105.9" cy="463.5" r="2.5" fill="url(#g11)"/>
<circle cx="111.2" cy="456.7" r="2.5" fill="url(#g11)"/>
<circle cx="115.5" cy="446.7" r="2.5" fill="url(#g11)"/>
<circle cx="121.1" cy="446.1" r="2.5" fill="url(#g11)"/>
<circle cx="126.3" cy="446.2" r="2.5" fill="url(#g11)"/>
<circle cx="130.0" cy="447.3" r="2.5" fill="url(#g11)"/>
<circle cx="136.2" cy="441.3" r="2.5" fill="url(#g11)"/>
<circle cx="144.8" cy="441.3" r="2.5" fill="url(#g11)"/>
<circle cx="151.3" cy="437.2" r="2.5" fill="url(#g11)"/>
<circle cx="156.8" cy="434.8" r="2.5" fill="url(#g11)"/>
<circle cx="163.7" cy="430.2" r="2.5" fill="url(#g11)"/>
<circle cx="168.5" cy="428.0" r="2.5" fill="url(#g11)"/>
<circle cx="168.0" cy="424.0" r="2.5" fill="url(#g11)"/>
<circle cx="173.0" cy="419.5" r="2.5" fill="url(#g11)"/>
<circle cx="178.4" cy="415.6" r="2.5" fill="url(#g11)"/>
<circle cx="186.2" cy="412.6" r="2.5" fill="url(#g11)"/>
<circle cx="195.1" cy="413.8" r="2.5" fill="url(#g11)"/>
<circle cx="202.3" cy="412.9" r="2.5" fill="url(#g11)"/>
<circle cx="205.9" cy="412.9" r="2.5" fill="url(#g11)"/>
<circle cx="214.1" cy="411.4" r="2.5" fill="url(#g11)"/>
<circle cx="222.1" cy="414.4" r="2.5" fill="url(#g11)"/>
<circle cx="222.1" cy="416.2" r="2.5" fill="url(#g11)"/>
<circle cx="231.7" cy="418.0" r="2.5" fill="url(#g11)"/>
<circle cx="232.9" cy="422.8" r="2.5" fill="url(#g11)"/>
<circle cx="239.5" cy="425.7" r="2.5" fill="url(#g11)"/>
<circle cx="251.5" cy="428.6" r="2.5" fill="url(#g11)"/>
<circle cx="260.7" cy="433.7" r="2.5" fill="url(#g11)"/>
<circle cx="269.9" cy="438.8" r="2.5" fill="url(#g11)"/>
<circle cx="278.1" cy="447.0" r="2.5" fill="url(#g11)"/>
<circle cx="278.1" cy="454.2" r="2.5" fill="url(#g11)"/>
<circle cx="293.4" cy="461.3" r="2.5" fill="url(#g11)"/>
<circle cx="295.5" cy="467.9" r="2.5" fill="url(#g11)"/>
<circle cx="101.7" cy="474.0" r="2.5" fill="url(#g12)"/>
<circle cx="104.0" cy="463.8" r="2.5" fill="url(#g12)"/>
<circle cx="109.4" cy="457.5" r="2.5" fill="url(#g12)"/>
<circle cx="113.8" cy="448.0" r="2.5" fill="url(#g12)"/>
<circle cx="119.6" cy="447.4" r="2.5" fill="url(#g12)"/>
<circle cx="125.0" cy="447.5" r="2.5" fill="url(#g12)"/>
<circle cx="128.8" cy="448.6" r="2.5" fill="url(#g12)"/>
<circle cx="135.2" cy="442.6" r="2.5" fill="url(#g12)"/>
<circle cx="144.1" cy="442.6" r="2.5" fill="url(#g12)"/>
<circle cx="150.8" cy="438.5" r="2.5" fill="url(#g12)"/>
<circle cx="156.5" cy="436.1" r="2.5" fill="url(#g12)"/>
<circle cx="163.5" cy="431.5" r="2.5" fill="url(#g12)"/>
<circle cx="168.5" cy="429.3" r="2.5" fill="url(#g12)"/>
<circle cx="170.0" cy="426.0" r="2.5" fill="url(#g12)"/>
<circle cx="175.4" cy="422.2" r="2.5" fill="url(#g12)"/>
<circle cx="183.2" cy="419.2" r="2.5" fill="url(#g12)"/>
<circle cx="191.0" cy="420.4" r="2.5" fill="url(#g12)"/>
<circle cx="199.3" cy="419.2" r="2.5" fill="url(#g12)"/>
<circle cx="210.5" cy="418.3" r="2.5" fill="url(#g12)"/>
<circle cx="216.1" cy="421.3" r="2.5" fill="url(#g12)"/>
<circle cx="220.3" cy="422.8" r="2.5" fill="url(#g12)"/>
<circle cx="226.3" cy="424.6" r="2.5" fill="url(#g12)"/>
<circle cx="228.7" cy="428.7" r="2.5" fill="url(#g12)"/>
<circle cx="232.9" cy="431.7" r="2.5" fill="url(#g12)"/>
<circle cx="236.5" cy="435.3" r="2.5" fill="url(#g12)"/>
<circle cx="244.9" cy="433.5" r="2.5" fill="url(#g12)"/>
<circle cx="253.6" cy="437.8" r="2.5" fill="url(#g12)"/>
<circle cx="265.8" cy="442.9" r="2.5" fill="url(#g12)"/>
<circle cx="269.9" cy="450.0" r="2.5" fill="url(#g12)"/>
<circle cx="271.4" cy="456.2" r="2.5" fill="url(#g12)"/>
<circle cx="278.1" cy="462.9" r="2.5" fill="url(#g12)"/>
<circle cx="283.2" cy="469.1" r="2.5" fill="url(#g12)"/>
<circle cx="99.7" cy="474.0" r="2.5" fill="url(#g13)"/>
<circle cx="102.1" cy="464.0" r="2.5" fill="url(#g13)"/>
<circle cx="107.6" cy="458.3" r="2.5" fill="url(#g13)"/>
<circle cx="112.2" cy="449.3" r="2.5" fill="url(#g13)"/>
<circle cx="118.2" cy="448.7" r="2.5" fill="url(#g13)"/>
<circle cx="123.6" cy="448.8" r="2.5" fill="url(#g13)"/>
<circle cx="127.6" cy="449.9" r="2.5" fill="url(#g13)"/>
<circle cx="134.2" cy="443.9" r="2.5" fill="url(#g13)"/>
<circle cx="143.3" cy="443.9" r="2.5" fill="url(#g13)"/>
<circle cx="150.2" cy="439.8" r="2.5" fill="url(#g13)"/>
<circle cx="156.1" cy="437.4" r="2.5" fill="url(#g13)"/>
<circle cx="163.3" cy="432.8" r="2.5" fill="url(#g13)"/>
<circle cx="168.5" cy="430.6" r="2.5" fill="url(#g13)"/>
<circle cx="172.0" cy="429.0" r="2.5" fill="url(#g13)"/>
<circle cx="177.2" cy="427.3" r="2.5" fill="url(#g13)"/>
<circle cx="186.8" cy="427.5" r="2.5" fill="url(#g13)"/>
<circle cx="196.9" cy="426.3" r="2.5" fill="url(#g13)"/>
<circle cx="204.7" cy="429.3" r="2.5" fill="url(#g13)"/>
<circle cx="210.7" cy="431.7" r="2.5" fill="url(#g13)"/>
<circle cx="218.5" cy="435.3" r="2.5" fill="url(#g13)"/>
<circle cx="222.7" cy="437.7" r="2.5" fill="url(#g13)"/>
<circle cx="228.3" cy="439.3" r="2.5" fill="url(#g13)"/>
<circle cx="234.1" cy="441.0" r="2.5" fill="url(#g13)"/>
<circle cx="242.3" cy="443.3" r="2.5" fill="url(#g13)"/>
<circle cx="246.4" cy="448.0" r="2.5" fill="url(#g13)"/>
<circle cx="251.5" cy="453.5" r="2.5" fill="url(#g13)"/>
<circle cx="258.7" cy="459.3" r="2.5" fill="url(#g13)"/>
<circle cx="265.8" cy="465.0" r="2.5" fill="url(#g13)"/>
<circle cx="269.3" cy="469.5" r="2.5" fill="url(#g13)"/>
<circle cx="99.2" cy="474.0" r="2.5" fill="url(#g22)"/>
<circle cx="100.8" cy="468.0" r="2.5" fill="url(#g22)"/>
<circle cx="101.6" cy="464.3" r="2.5" fill="url(#g22)"/>
<circle cx="103.0" cy="462.5" r="2.5" fill="url(#g22)"/>
<circle cx="107.2" cy="459.0" r="2.5" fill="url(#g22)"/>
<circle cx="110.0" cy="454.0" r="2.5" fill="url(#g22)"/>
<circle cx="111.8" cy="450.5" r="2.5" fill="url(#g22)"/>
<circle cx="114.0" cy="449.3" r="2.5" fill="url(#g22)"/>
<circle cx="117.8" cy="449.9" r="2.5" fill="url(#g22)"/>
<circle cx="119.6" cy="447.5" r="2.5" fill="url(#g22)"/>
<circle cx="123.3" cy="450.0" r="2.5" fill="url(#g22)"/>
<circle cx="124.3" cy="447.0" r="2.5" fill="url(#g22)"/>
<circle cx="127.3" cy="451.1" r="2.5" fill="url(#g22)"/>
<circle cx="131.7" cy="447.5" r="2.5" fill="url(#g22)"/>
<circle cx="133.9" cy="445.1" r="2.5" fill="url(#g22)"/>
<circle cx="138.7" cy="448.1" r="2.5" fill="url(#g22)"/>
<circle cx="143.1" cy="445.1" r="2.5" fill="url(#g22)"/>
<circle cx="145.3" cy="444.0" r="2.5" fill="url(#g22)"/>
<circle cx="150.1" cy="441.0" r="2.5" fill="url(#g22)"/>
<circle cx="154.5" cy="439.8" r="2.5" fill="url(#g22)"/>
<circle cx="156.0" cy="438.6" r="2.5" fill="url(#g22)"/>
<circle cx="159.7" cy="435.6" r="2.5" fill="url(#g22)"/>
<circle cx="163.3" cy="434.0" r="2.5" fill="url(#g22)"/>
<circle cx="165.7" cy="432.0" r="2.5" fill="url(#g22)"/>
<circle cx="168.5" cy="431.8" r="2.5" fill="url(#g22)"/>
<circle cx="172.4" cy="431.7" r="2.5" fill="url(#g22)"/>
<circle cx="176.0" cy="432.0" r="2.5" fill="url(#g22)"/>
<circle cx="179.6" cy="432.1" r="2.5" fill="url(#g22)"/>
<circle cx="182.6" cy="432.1" r="2.5" fill="url(#g22)"/>
<circle cx="189.2" cy="431.1" r="2.5" fill="url(#g22)"/>
<circle cx="196.9" cy="433.3" r="2.5" fill="url(#g22)"/>
<circle cx="201.7" cy="434.7" r="2.5" fill="url(#g22)"/>
<circle cx="204.7" cy="435.7" r="2.5" fill="url(#g22)"/>
<circle cx="211.3" cy="438.9" r="2.5" fill="url(#g22)"/>
<circle cx="216.7" cy="441.3" r="2.5" fill="url(#g22)"/>
<circle cx="221.5" cy="442.9" r="2.5" fill="url(#g22)"/>
<circle cx="225.1" cy="444.3" r="2.5" fill="url(#g22)"/>
<circle cx="229.0" cy="445.5" r="2.5" fill="url(#g22)"/>
<circle cx="233.5" cy="446.7" r="2.5" fill="url(#g22)"/>
<circle cx="238.3" cy="449.7" r="2.5" fill="url(#g22)"/>
<circle cx="243.7" cy="455.3" r="2.5" fill="url(#g22)"/>
<circle cx="250.5" cy="460.3" r="2.5" fill="url(#g22)"/>
<circle cx="255.6" cy="465.0" r="2.5" fill="url(#g22)"/>
<circle cx="257.7" cy="469.9" r="2.5" fill="url(#g22)"/>
</g>
<text x="254.50" y="369.40" font-size="10.2" text-anchor="start" font-weight="normal" >At 500 &#176;C</text>
<circle cx="265.7" cy="378.0" r="2.75" fill="url(#g22)"/>
<text x="280.20" y="381.80" font-size="10.2" text-anchor="start" font-weight="normal" >3rd</text>
<circle cx="265.7" cy="390.6" r="2.75" fill="url(#g13)"/>
<text x="280.20" y="394.40" font-size="10.2" text-anchor="start" font-weight="normal" >7th</text>
<circle cx="265.7" cy="403.5" r="2.75" fill="url(#g12)"/>
<text x="280.20" y="407.30" font-size="10.2" text-anchor="start" font-weight="normal" >11th</text>
<circle cx="265.7" cy="416.0" r="2.75" fill="url(#g11)"/>
<text x="280.20" y="419.80" font-size="10.2" text-anchor="start" font-weight="normal" >15th</text>
<line x1="373.30" y1="474.60" x2="373.30" y2="471.70" stroke="#111111" stroke-width="1.05"/>
<text x="373.30" y="487.20" font-size="10.3" text-anchor="middle" font-weight="normal" >0</text>
<line x1="393.98" y1="474.60" x2="393.98" y2="472.80" stroke="#111111" stroke-width="1.05"/>
<line x1="414.65" y1="474.60" x2="414.65" y2="471.70" stroke="#111111" stroke-width="1.05"/>
<text x="414.65" y="487.20" font-size="10.3" text-anchor="middle" font-weight="normal" >100</text>
<line x1="435.32" y1="474.60" x2="435.32" y2="472.80" stroke="#111111" stroke-width="1.05"/>
<line x1="456.00" y1="474.60" x2="456.00" y2="471.70" stroke="#111111" stroke-width="1.05"/>
<text x="456.00" y="487.20" font-size="10.3" text-anchor="middle" font-weight="normal" >200</text>
<line x1="476.68" y1="474.60" x2="476.68" y2="472.80" stroke="#111111" stroke-width="1.05"/>
<line x1="497.35" y1="474.60" x2="497.35" y2="471.70" stroke="#111111" stroke-width="1.05"/>
<text x="497.35" y="487.20" font-size="10.3" text-anchor="middle" font-weight="normal" >300</text>
<line x1="518.02" y1="474.60" x2="518.02" y2="472.80" stroke="#111111" stroke-width="1.05"/>
<line x1="538.70" y1="474.60" x2="538.70" y2="471.70" stroke="#111111" stroke-width="1.05"/>
<text x="538.70" y="487.20" font-size="10.3" text-anchor="middle" font-weight="normal" >400</text>
<line x1="559.38" y1="474.60" x2="559.38" y2="472.80" stroke="#111111" stroke-width="1.05"/>
<line x1="580.05" y1="474.60" x2="580.05" y2="471.70" stroke="#111111" stroke-width="1.05"/>
<text x="580.05" y="487.20" font-size="10.3" text-anchor="middle" font-weight="normal" >500</text>
<line x1="600.73" y1="474.60" x2="600.73" y2="472.80" stroke="#111111" stroke-width="1.05"/>
<line x1="621.40" y1="474.60" x2="621.40" y2="471.70" stroke="#111111" stroke-width="1.05"/>
<text x="621.40" y="487.20" font-size="10.3" text-anchor="middle" font-weight="normal" >600</text>
<line x1="642.08" y1="474.60" x2="642.08" y2="472.80" stroke="#111111" stroke-width="1.05"/>
<line x1="662.75" y1="474.60" x2="662.75" y2="471.70" stroke="#111111" stroke-width="1.05"/>
<text x="662.75" y="487.20" font-size="10.3" text-anchor="middle" font-weight="normal" >700</text>
<line x1="683.42" y1="474.60" x2="683.42" y2="472.80" stroke="#111111" stroke-width="1.05"/>
<line x1="361.00" y1="470.64" x2="362.80" y2="470.64" stroke="#111111" stroke-width="1.05"/>
<line x1="361.00" y1="451.30" x2="363.90" y2="451.30" stroke="#111111" stroke-width="1.05"/>
<text x="355.80" y="454.70" font-size="10.3" text-anchor="end" font-weight="normal" >500</text>
<line x1="361.00" y1="431.96" x2="362.80" y2="431.96" stroke="#111111" stroke-width="1.05"/>
<line x1="361.00" y1="412.62" x2="363.90" y2="412.62" stroke="#111111" stroke-width="1.05"/>
<text x="355.80" y="416.02" font-size="10.3" text-anchor="end" font-weight="normal" >550</text>
<line x1="361.00" y1="393.29" x2="362.80" y2="393.29" stroke="#111111" stroke-width="1.05"/>
<line x1="361.00" y1="373.95" x2="363.90" y2="373.95" stroke="#111111" stroke-width="1.05"/>
<text x="355.80" y="377.35" font-size="10.3" text-anchor="end" font-weight="normal" >600</text>
<line x1="361.00" y1="354.61" x2="362.80" y2="354.61" stroke="#111111" stroke-width="1.05"/>
<text x="341.00" y="355.00" font-size="18.5" text-anchor="start" font-weight="bold" stroke="#000" stroke-width="0.35">g</text>
<text x="522.50" y="498.00" font-size="11.9" text-anchor="middle" font-weight="normal" >Time (mins)</text>
<text x="0.00" y="0.00" font-size="11.75" text-anchor="middle" font-weight="normal" transform="translate(336.4,412.4) rotate(-90)">Temperature (&#176;C)</text>
<path fill="none" stroke="#111" stroke-width="1.8" d="M381.6,374.0L394.0,412.6 M402.2,412.6L414.6,451.3 M422.9,451.3L435.3,412.6 M443.6,412.6L456.0,374.0 M464.3,374.0L476.7,412.6 M484.9,412.6L497.4,451.3 M505.6,451.3L518.0,412.6 M526.3,412.6L538.7,374.0 M547.0,374.0L559.4,412.6 M567.6,412.6L580.0,451.3 M588.3,451.3L600.7,412.6 M609.0,412.6L621.4,374.0 M629.7,374.0L642.1,412.6 M650.3,412.6L662.8,451.3"/>
<circle cx="373.3" cy="374.0" r="4.15" fill="url(#gpur)"/>
<circle cx="381.6" cy="374.0" r="4.15" fill="url(#gpur)"/>
<circle cx="394.0" cy="412.6" r="4.15" fill="url(#gpur)"/>
<circle cx="402.2" cy="412.6" r="4.15" fill="url(#gpur)"/>
<circle cx="414.6" cy="451.3" r="4.15" fill="url(#gpur)"/>
<circle cx="422.9" cy="451.3" r="4.15" fill="url(#gpur)"/>
<circle cx="435.3" cy="412.6" r="4.15" fill="url(#gpur)"/>
<circle cx="443.6" cy="412.6" r="4.15" fill="url(#gpur)"/>
<circle cx="456.0" cy="374.0" r="4.15" fill="url(#gpur)"/>
<circle cx="464.3" cy="374.0" r="4.15" fill="url(#gpur)"/>
<circle cx="476.7" cy="412.6" r="4.15" fill="url(#gpur)"/>
<circle cx="484.9" cy="412.6" r="4.15" fill="url(#gpur)"/>
<circle cx="497.4" cy="451.3" r="4.15" fill="url(#gpur)"/>
<circle cx="505.6" cy="451.3" r="4.15" fill="url(#gpur)"/>
<circle cx="518.0" cy="412.6" r="4.15" fill="url(#gpur)"/>
<circle cx="526.3" cy="412.6" r="4.15" fill="url(#gpur)"/>
<circle cx="538.7" cy="374.0" r="4.15" fill="url(#gpur)"/>
<circle cx="547.0" cy="374.0" r="4.15" fill="url(#gpur)"/>
<circle cx="559.4" cy="412.6" r="4.15" fill="url(#gpur)"/>
<circle cx="567.6" cy="412.6" r="4.15" fill="url(#gpur)"/>
<circle cx="580.0" cy="451.3" r="4.15" fill="url(#gpur)"/>
<circle cx="588.3" cy="451.3" r="4.15" fill="url(#gpur)"/>
<circle cx="600.7" cy="412.6" r="4.15" fill="url(#gpur)"/>
<circle cx="609.0" cy="412.6" r="4.15" fill="url(#gpur)"/>
<circle cx="621.4" cy="374.0" r="4.15" fill="url(#gpur)"/>
<circle cx="629.7" cy="374.0" r="4.15" fill="url(#gpur)"/>
<circle cx="642.1" cy="412.6" r="4.15" fill="url(#gpur)"/>
<circle cx="650.3" cy="412.6" r="4.15" fill="url(#gpur)"/>
<circle cx="662.8" cy="451.3" r="4.15" fill="url(#gpur)"/>
<circle cx="671.0" cy="451.3" r="4.15" fill="url(#gpur)"/>
<text x="381.67" y="367.25" font-size="10.2" text-anchor="start" font-weight="normal" >1st</text>
<text x="401.45" y="405.62" font-size="10.2" text-anchor="start" font-weight="normal" >2nd</text>
<text x="424.62" y="464.20" font-size="10.2" text-anchor="start" font-weight="normal" >3rd</text>
<text x="444.20" y="426.03" font-size="10.2" text-anchor="start" font-weight="normal" >4th</text>
<text x="466.17" y="367.55" font-size="10.2" text-anchor="start" font-weight="normal" >5th</text>
<text x="486.05" y="404.82" font-size="10.2" text-anchor="start" font-weight="normal" >6th</text>
<text x="507.22" y="464.20" font-size="10.2" text-anchor="start" font-weight="normal" >7th</text>
<text x="526.80" y="426.12" font-size="10.2" text-anchor="start" font-weight="normal" >8th</text>
<text x="549.77" y="368.55" font-size="10.2" text-anchor="start" font-weight="normal" >9th</text>
<text x="566.64" y="405.93" font-size="10.2" text-anchor="start" font-weight="normal" >10th</text>
<text x="588.62" y="463.90" font-size="10.2" text-anchor="start" font-weight="normal" >11th</text>
<text x="608.80" y="426.12" font-size="10.2" text-anchor="start" font-weight="normal" >12th</text>
<text x="630.57" y="369.35" font-size="10.2" text-anchor="start" font-weight="normal" >13th</text>
<text x="651.05" y="405.62" font-size="10.2" text-anchor="start" font-weight="normal" >14th</text>
<text x="663.60" y="443.10" font-size="10.2" text-anchor="start" font-weight="normal" >15th</text><rect x="35.50" y="0.70" width="180.90" height="154.10" fill="none" stroke="#111111" stroke-width="1.45"/>
<rect x="265.50" y="0.70" width="180.90" height="154.10" fill="none" stroke="#111111" stroke-width="1.45"/>
<rect x="495.30" y="1.40" width="183.20" height="153.40" fill="none" stroke="#111111" stroke-width="1.45"/>
<rect x="38.00" y="199.00" width="280.50" height="124.00" fill="none" stroke="#111111" stroke-width="1.45"/>
<rect x="385.90" y="198.40" width="280.90" height="124.70" fill="none" stroke="#111111" stroke-width="1.45"/>
<rect x="37.30" y="350.20" width="281.00" height="124.40" fill="none" stroke="#111111" stroke-width="1.45"/>
<rect x="361.00" y="350.80" width="323.00" height="123.80" fill="none" stroke="#111111" stroke-width="1.45"/></svg></body></html>
